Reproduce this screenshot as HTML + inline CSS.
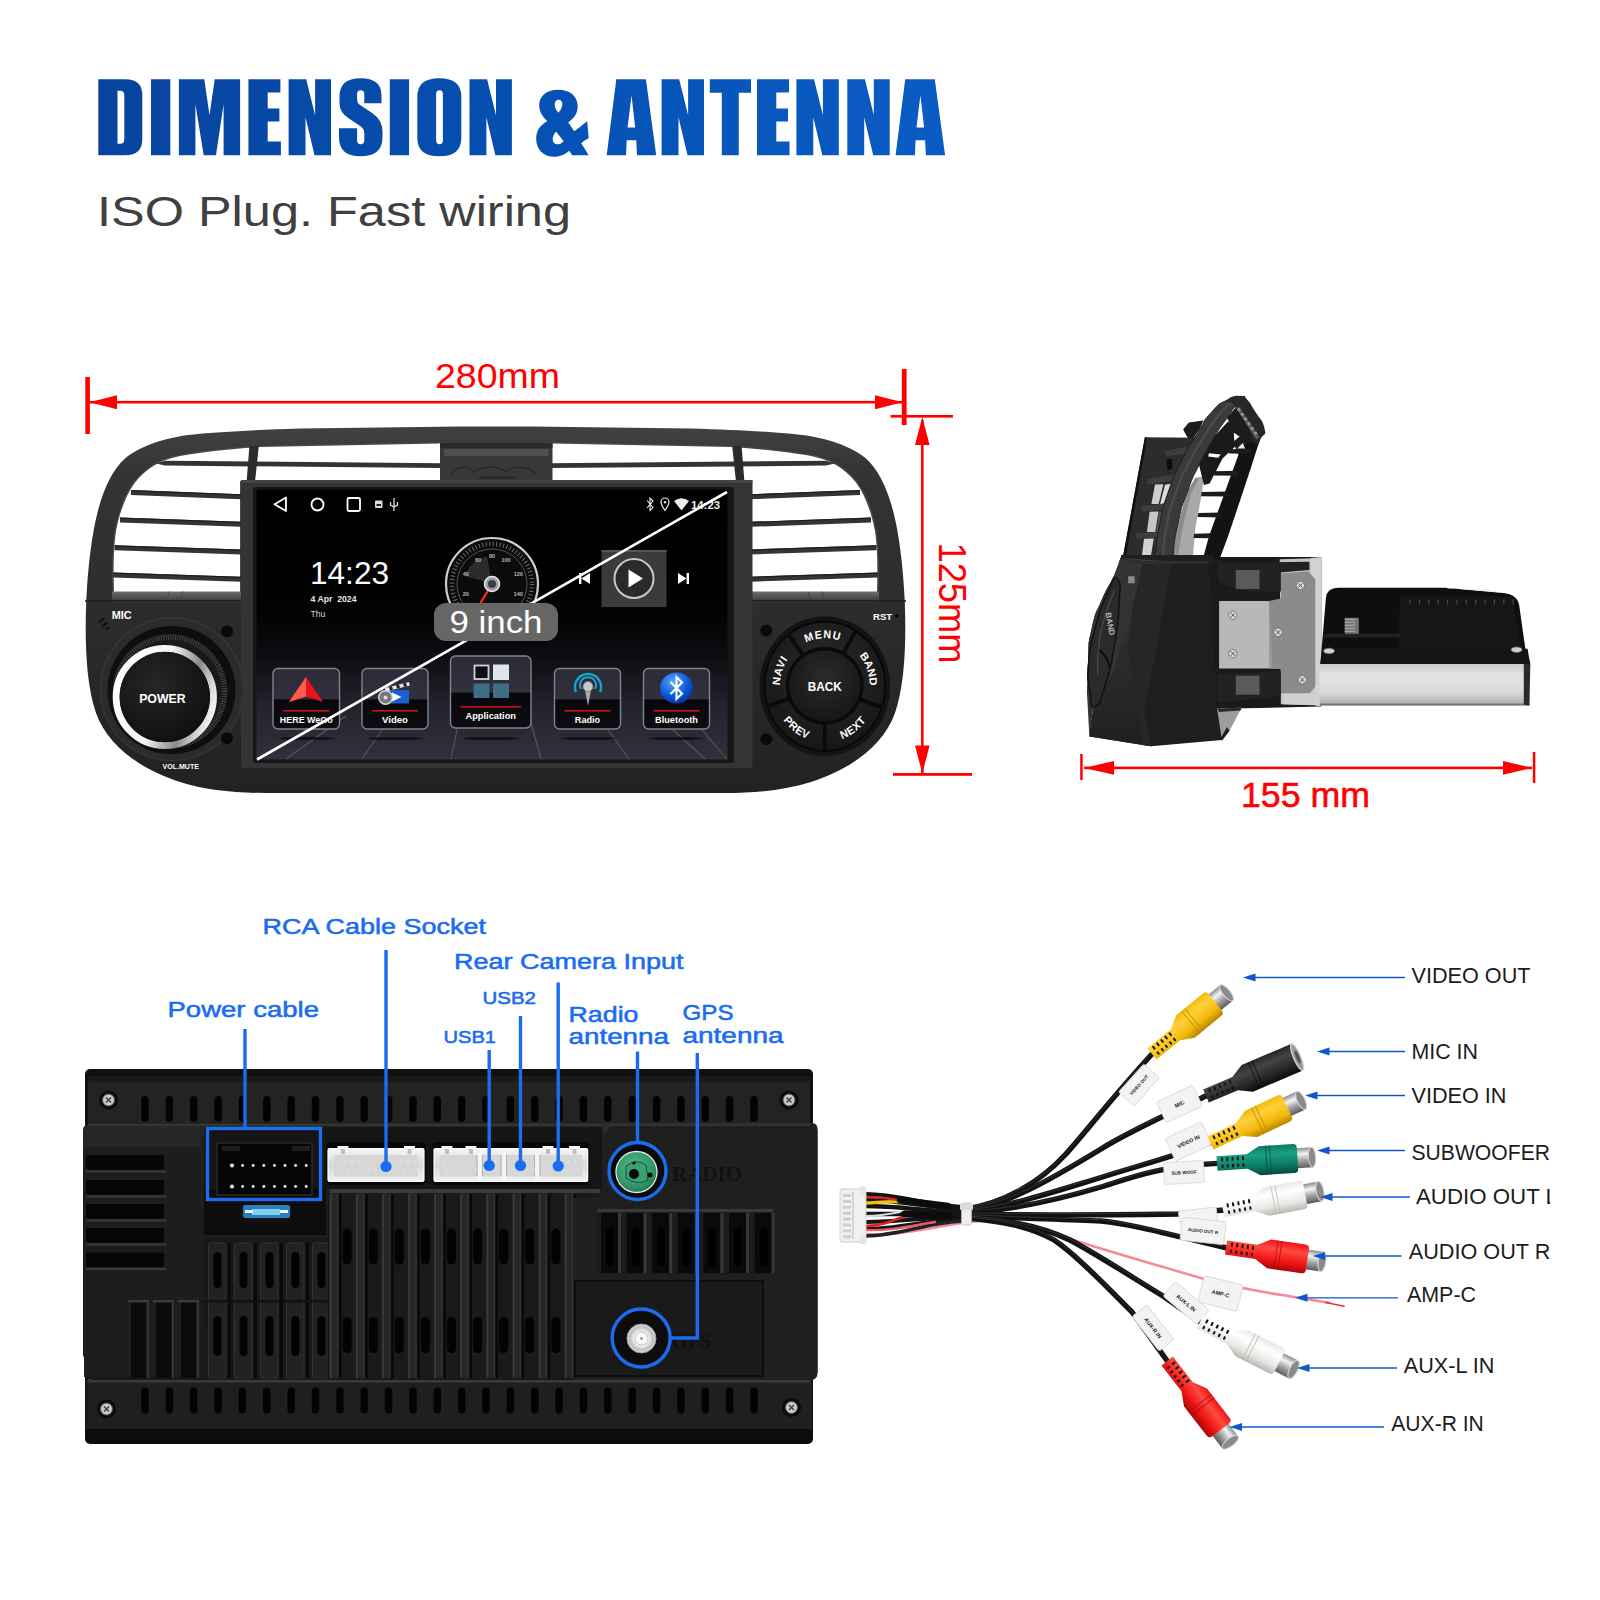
<!DOCTYPE html>
<html><head><meta charset="utf-8"><title>Dimension &amp; Antenna</title>
<style>
html,body{margin:0;padding:0;background:#fff;}
body{width:1600px;height:1600px;overflow:hidden;font-family:"Liberation Sans",sans-serif;}
svg{display:block;position:absolute;left:0;top:0;}
svg text{font-family:"Liberation Sans",sans-serif;}
</style></head><body>
<svg width="1600" height="1600" viewBox="0 0 1600 1600">
<!-- p_head -->

<defs>
<linearGradient id="tg" gradientUnits="userSpaceOnUse" x1="98" y1="0" x2="946" y2="0">
<stop offset="0" stop-color="#08449e"/><stop offset="0.5" stop-color="#0650b2"/><stop offset="1" stop-color="#0a5cc4"/>
</linearGradient>
</defs>
<clipPath id="tclip">
<path clip-rule="evenodd" transform="translate(98.3,79.2)" d="M0,0H27Q44,0 44,16V60Q44,76 27,76H0ZM19.2,11.5V64.5H22Q26,64.5 26,60V16Q26,11.5 22,11.5Z"/>
<path clip-rule="evenodd" transform="translate(151.0,79.2)" d="M0,0H19.3V76H0Z"/>
<path clip-rule="evenodd" transform="translate(178.9,79.2)" d="M0,0H25.4L30.6,36L35.8,0H61.2V76H44.7V25L37.1,76H24.8L16.5,25V76H0Z"/>
<path clip-rule="evenodd" transform="translate(248.4,79.2)" d="M0,0H32V13.3H19.3V29.2H31V42.2H19.3V62.2H32.5V76H0Z"/>
<path clip-rule="evenodd" transform="translate(288.6,79.2)" d="M0,0H17.6L26.5,36V0H42.4V76H25.9L16.9,38V76H0Z"/>
<path clip-rule="evenodd" transform="translate(338.5,79.2)" d="M43,24V16Q43,-1 22,-1Q1,-1 1,17V24Q1,33 10,39L22,47Q25.8,49.5 25.8,54V61Q25.8,65 22.2,65Q18.6,65 18.6,61V49H0.5V58Q0.5,77 22,77Q44,77 44,58V52Q44,41 34,34L22,26Q18.6,24 18.6,20V15Q18.6,11 22.2,11Q25.8,11 25.8,15V24Z"/>
<path clip-rule="evenodd" transform="translate(389.8,79.2)" d="M0,0H19.3V76H0Z"/>
<path clip-rule="evenodd" transform="translate(417.3,79.2)" d="M22,-1Q44,-1 44,17V59Q44,77 22,77Q0,77 0,59V17Q0,-1 22,-1ZM22.2,11Q18.8,11 18.8,15V61Q18.8,65 22.2,65Q25.6,65 25.6,61V15Q25.6,11 22.2,11Z"/>
<path clip-rule="evenodd" transform="translate(469.5,79.2)" d="M0,0H17.6L26.5,36V0H42.4V76H25.9L16.9,38V76H0Z"/>
<path clip-rule="evenodd" transform="translate(536.2,79.2)" d="M22,10.5C34,10.5 41.5,17 41.5,27C41.5,34 38,39 32,43L38,52C42,49 46,46 51,42L52.5,59C50,60 47,62 45,64L52.5,76H36L33,71.5C29,75 24,77.5 18,77.5C7,77.5 0,70 0,59.5C0,51 4,46 11,42C6,37 3,32 3,26C3,17 10,10.5 22,10.5ZM22.3,20.5C25.5,20.5 26.5,23 26,26C25.5,29 24,31.5 22,33.5C20,31 18.5,28.5 18.5,25.5C18.5,22.5 19.8,20.5 22.3,20.5ZM20,52.5L27.5,62C25.5,64 23.5,65 21.5,65C18.5,65 16.5,63 16.5,60C16.5,57 17.8,54.5 20,52.5Z"/>
<path clip-rule="evenodd" transform="translate(606.7,79.2)" d="M9.6,0H39.2L49.5,76H30.3L29.5,61H20L19.3,76H0ZM24.8,16L20.9,48.4H28.5Z"/>
<path clip-rule="evenodd" transform="translate(661.6,79.2)" d="M0,0H17.6L26.5,36V0H42.4V76H25.9L16.9,38V76H0Z"/>
<path clip-rule="evenodd" transform="translate(709.8,79.2)" d="M0,0H41.2V13.5H29V76H12V13.5H0Z"/>
<path clip-rule="evenodd" transform="translate(757.0,79.2)" d="M0,0H32V13.3H19.3V29.2H31V42.2H19.3V62.2H32.5V76H0Z"/>
<path clip-rule="evenodd" transform="translate(796.4,79.2)" d="M0,0H17.6L26.5,36V0H42.4V76H25.9L16.9,38V76H0Z"/>
<path clip-rule="evenodd" transform="translate(847.3,79.2)" d="M0,0H17.6L26.5,36V0H42.4V76H25.9L16.9,38V76H0Z"/>
<path clip-rule="evenodd" transform="translate(895.6,79.2)" d="M9.6,0H39.2L49.5,76H30.3L29.5,61H20L19.3,76H0ZM24.8,16L20.9,48.4H28.5Z"/>
</clipPath>
<rect x="90" y="70" width="870" height="95" fill="url(#tg)" clip-path="url(#tclip)"/>
<text x="97" y="226" font-size="42" fill="#404040" textLength="474" lengthAdjust="spacingAndGlyphs">ISO Plug. Fast wiring</text>

<!-- p_front -->

<defs>
<linearGradient id="bz" x1="0" y1="0" x2="0" y2="1">
 <stop offset="0" stop-color="#414141"/><stop offset="0.12" stop-color="#343434"/><stop offset="0.5" stop-color="#2c2c2c"/><stop offset="1" stop-color="#222222"/>
</linearGradient>
<linearGradient id="scr" x1="0" y1="0" x2="0" y2="1">
 <stop offset="0" stop-color="#000"/><stop offset="0.45" stop-color="#020203"/><stop offset="0.62" stop-color="#0d0d12"/><stop offset="0.8" stop-color="#22232c"/><stop offset="1" stop-color="#30313b"/>
</linearGradient>
<linearGradient id="tile" x1="0" y1="0" x2="0" y2="1">
 <stop offset="0" stop-color="#2a2b36"/><stop offset="0.5" stop-color="#30313d"/><stop offset="0.52" stop-color="#08080c"/><stop offset="1" stop-color="#0c0c12"/>
</linearGradient>
<linearGradient id="lip" x1="0" y1="0" x2="0" y2="1">
 <stop offset="0" stop-color="#6e6e6e"/><stop offset="1" stop-color="#3a3a3a"/>
</linearGradient>
<linearGradient id="chrome" x1="0" y1="0.3" x2="1" y2="0.6">
 <stop offset="0" stop-color="#ffffff"/><stop offset="0.45" stop-color="#f4f4f4"/><stop offset="0.75" stop-color="#8a8a8a"/><stop offset="0.9" stop-color="#cfcfcf"/><stop offset="1" stop-color="#efefef"/>
</linearGradient>
<radialGradient id="cap" cx="0.4" cy="0.35" r="0.8">
 <stop offset="0" stop-color="#262626"/><stop offset="1" stop-color="#0c0c0c"/>
</radialGradient>
<radialGradient id="btn" cx="0.5" cy="0.4" r="0.7">
 <stop offset="0" stop-color="#2b2b2b"/><stop offset="1" stop-color="#131313"/>
</radialGradient>
<radialGradient id="bt" cx="0.4" cy="0.3" r="0.8">
 <stop offset="0" stop-color="#5aa8ff"/><stop offset="0.6" stop-color="#0b55d8"/><stop offset="1" stop-color="#042a8a"/>
</radialGradient>
</defs>
<clipPath id="bzclip"><path d="M497.0,426.5 L460.0,426.5 L300.0,428.5 C255.0,430.0 220.0,431.5 191.0,434.7 C165.0,437.5 140.0,446.0 125.6,458.0 C113.0,469.0 104.0,487.0 97.5,512.5 C92.0,534.0 88.0,565.0 86.3,600.0 C84.5,645.0 86.5,685.0 96.0,713.0 C107.0,744.0 138.0,768.5 180.0,782.0 C205.0,790.0 235.0,793.0 265.0,793.0 L497.0,793.0 L494.0,793.0 L726.0,793.0 C756.0,793.0 786.0,790.0 811.0,782.0 C853.0,768.5 884.0,744.0 895.0,713.0 C904.5,685.0 906.5,645.0 904.7,600.0 C903.0,565.0 899.0,534.0 893.5,512.5 C887.0,487.0 878.0,469.0 865.4,458.0 C851.0,446.0 826.0,437.5 800.0,434.7 C771.0,431.5 736.0,430.0 691.0,428.5 L531.0,426.5 L494.0,426.5 Z"/></clipPath>
<path d="M497.0,426.5 L460.0,426.5 L300.0,428.5 C255.0,430.0 220.0,431.5 191.0,434.7 C165.0,437.5 140.0,446.0 125.6,458.0 C113.0,469.0 104.0,487.0 97.5,512.5 C92.0,534.0 88.0,565.0 86.3,600.0 C84.5,645.0 86.5,685.0 96.0,713.0 C107.0,744.0 138.0,768.5 180.0,782.0 C205.0,790.0 235.0,793.0 265.0,793.0 L497.0,793.0 L494.0,793.0 L726.0,793.0 C756.0,793.0 786.0,790.0 811.0,782.0 C853.0,768.5 884.0,744.0 895.0,713.0 C904.5,685.0 906.5,645.0 904.7,600.0 C903.0,565.0 899.0,534.0 893.5,512.5 C887.0,487.0 878.0,469.0 865.4,458.0 C851.0,446.0 826.0,437.5 800.0,434.7 C771.0,431.5 736.0,430.0 691.0,428.5 L531.0,426.5 L494.0,426.5 Z" fill="url(#bz)"/>
<path d="M440,443.6 L260,447 C230,449 200,452.5 180,456 C160,460 147,468 135,482.5 C125,496 119,515 116,531 C113.5,548 113,570 114.4,601 L240,601 L240,481 L440,481 Z" fill="#fff" stroke="#484848" stroke-width="3" paint-order="stroke"/>
<path d="M440,443.6 L260,447 C230,449 200,452.5 180,456 C160,460 147,468 135,482.5 C125,496 119,515 116,531 C113.5,548 113,570 114.4,601 L240,601 L240,481 L440,481 Z" fill="#fff" stroke="#484848" stroke-width="3" paint-order="stroke" transform="translate(991.0,0) scale(-1,1)"/>
<rect x="439" y="443.4" width="113" height="38" fill="#fff"/>
<g><path d="M156,463.5 L165,460.8 L441,463.2 L441,468 L165,465.6 Z" fill="#333"/>
<path d="M249.4,446 L258.8,446 L255,482 L246.6,482 Z" fill="#2b2b2b"/>
<path d="M131,490 L241,494.2 L241,499.2 L131,495 Z" fill="#343434"/>
<path d="M131,490.6 L241,494.8" stroke="#1f1f1f" stroke-width="1.2"/>
<path d="M120,517.6 L241,521.8 L241,526.8 L120,522.6 Z" fill="#343434"/>
<path d="M120,518.2 L241,522.4" stroke="#1f1f1f" stroke-width="1.2"/>
<path d="M114.5,545.3 L241,549.5 L241,554.5 L114.5,550.3 Z" fill="#343434"/>
<path d="M114.5,545.9 L241,550.1" stroke="#1f1f1f" stroke-width="1.2"/>
<path d="M113,572.5 L241,576.7 L241,581.7 L113,577.5 Z" fill="#343434"/>
<path d="M113,573.1 L241,577.3" stroke="#1f1f1f" stroke-width="1.2"/>
<rect x="112" y="591.5" width="129" height="10" fill="url(#lip)"/>
<path d="M169.5,591.5 L166,601.5 M183,591.5 L179.500,601.5" stroke="#444" stroke-width="1"/>
</g>
<g transform="translate(991.0,0) scale(-1,1)"><path d="M156,463.5 L165,460.8 L441,463.2 L441,468 L165,465.6 Z" fill="#333"/>
<path d="M249.4,446 L258.8,446 L255,482 L246.6,482 Z" fill="#2b2b2b"/>
<path d="M131,490 L241,494.2 L241,499.2 L131,495 Z" fill="#343434"/>
<path d="M131,490.6 L241,494.8" stroke="#1f1f1f" stroke-width="1.2"/>
<path d="M120,517.6 L241,521.8 L241,526.8 L120,522.6 Z" fill="#343434"/>
<path d="M120,518.2 L241,522.4" stroke="#1f1f1f" stroke-width="1.2"/>
<path d="M114.5,545.3 L241,549.5 L241,554.5 L114.5,550.3 Z" fill="#343434"/>
<path d="M114.5,545.9 L241,550.1" stroke="#1f1f1f" stroke-width="1.2"/>
<path d="M113,572.5 L241,576.7 L241,581.7 L113,577.5 Z" fill="#343434"/>
<path d="M113,573.1 L241,577.3" stroke="#1f1f1f" stroke-width="1.2"/>
<rect x="112" y="591.5" width="129" height="10" fill="url(#lip)"/>
<path d="M169.5,591.5 L166,601.5 M183,591.5 L179.500,601.5" stroke="#444" stroke-width="1"/>
</g>
<path d="M85,601 L241,601" stroke="#1c1c1c" stroke-width="1.5"/>
<path d="M750,601 L906,601" stroke="#1c1c1c" stroke-width="1.5"/>
<rect x="440" y="443" width="112.5" height="38" fill="#383838"/>
<rect x="444" y="449" width="104.5" height="7" fill="#4e4e4e"/>
<rect x="440" y="443" width="112.5" height="5" fill="#2a2a2a"/>
<path d="M452,474 C456,466 468,465 474,472 C480,466 500,465 506,472 C512,465 528,466 536,474" fill="none" stroke="#2a2a2a" stroke-width="1.6"/>
<rect x="479" y="476.5" width="36" height="2" fill="#252525"/>
<rect x="241" y="480" width="511.5" height="288" rx="2" fill="#343434"/>
<rect x="241" y="480" width="511.5" height="3" fill="#444"/>
<rect x="253" y="487" width="481" height="276" rx="2" fill="#161616"/>
<rect x="256.5" y="489.5" width="471" height="270" fill="url(#scr)"/>
<g stroke="#5a5b67" stroke-width="1.1" opacity="0.9" fill="none"><path d="M286,759 L346,716"/><path d="M362,759 L392,716"/><path d="M451,759 L460,716"/><path d="M541,759 L529,716"/><path d="M629,759 L598,716"/><path d="M705,759 L658,716"/><path d="M727,759 L690,716"/></g>
<ellipse cx="306" cy="738.5" rx="28" ry="1.6" fill="#000" opacity="0.6"/>
<ellipse cx="395" cy="738.5" rx="28" ry="1.6" fill="#000" opacity="0.6"/>
<ellipse cx="491" cy="738.5" rx="28" ry="1.6" fill="#000" opacity="0.6"/>
<ellipse cx="588" cy="738.5" rx="28" ry="1.6" fill="#000" opacity="0.6"/>
<ellipse cx="676" cy="738.5" rx="28" ry="1.6" fill="#000" opacity="0.6"/>
<path d="M286,497.5 L286,511 L274.5,504.2 Z" fill="none" stroke="#fff" stroke-width="1.8" stroke-linejoin="round"/>
<circle cx="317.5" cy="504.5" r="6" fill="none" stroke="#fff" stroke-width="1.8"/>
<rect x="347.5" y="498" width="12.5" height="13" rx="1.5" fill="none" stroke="#fff" stroke-width="1.8"/>
<rect x="375" y="500.5" width="7.5" height="7.5" rx="1" fill="#ddd"/><rect x="376.5" y="504" width="4.5" height="2" fill="#222"/>
<path d="M394,498 V511 M390.5,502 V505 L394,507 L397.5,505 V502" fill="none" stroke="#ddd" stroke-width="1.3"/>
<path d="M647,500.5 L653,507.5 L650,510.5 V498 L653,501 L647,508" fill="none" stroke="#eee" stroke-width="1.1"/>
<path d="M665,510.5 C662,506 661,504 661,502 A4,4 0 0 1 669,502 C669,504 668,506 665,510.5 Z" fill="none" stroke="#eee" stroke-width="1.2"/><circle cx="665" cy="502.3" r="1.2" fill="#eee"/>
<path d="M674,501 Q681.5,495.5 689,501 L681.5,510.5 Z" fill="#eee"/>
<text x="691" y="508.7" font-size="11.5" font-weight="bold" fill="#eee" textLength="29" lengthAdjust="spacingAndGlyphs">14:23</text>
<text x="310" y="583.5" font-size="31.5" fill="#fff" textLength="79" lengthAdjust="spacingAndGlyphs">14:23</text>
<text x="310.5" y="602.3" font-size="8.4" font-weight="bold" fill="#e6e6e6" textLength="46" lengthAdjust="spacingAndGlyphs">4 Apr&#160; 2024</text>
<text x="310.5" y="617.3" font-size="8.6" fill="#d8d8d8">Thu</text>
<clipPath id="gclip"><rect x="440" y="530" width="104" height="82"/></clipPath>
<g clip-path="url(#gclip)"><circle cx="492" cy="584" r="46" fill="#0b0b0b" stroke="#cfcfcf" stroke-width="2.2"/><circle cx="492" cy="584" r="40" fill="none" stroke="#777" stroke-width="4.5" stroke-dasharray="0.9 2.6"/><circle cx="492" cy="584" r="35" fill="none" stroke="#555" stroke-width="1"/><path d="M492,584 L465,576 A28,28 0 0 1 487,556.5 Z" fill="#2c2c2c"/><text x="465.7" y="595.6" font-size="5.5" font-weight="bold" fill="#bbb" text-anchor="middle">20</text><text x="465.7" y="576.4" font-size="5.5" font-weight="bold" fill="#bbb" text-anchor="middle">40</text><text x="478.0" y="561.8" font-size="5.5" font-weight="bold" fill="#bbb" text-anchor="middle">60</text><text x="492.0" y="558.0" font-size="5.5" font-weight="bold" fill="#bbb" text-anchor="middle">80</text><text x="506.0" y="561.8" font-size="5.5" font-weight="bold" fill="#bbb" text-anchor="middle">100</text><text x="518.3" y="576.4" font-size="5.5" font-weight="bold" fill="#bbb" text-anchor="middle">120</text><text x="518.3" y="595.6" font-size="5.5" font-weight="bold" fill="#bbb" text-anchor="middle">140</text></g>
<path d="M492,584 L481,602" stroke="#ff2a1a" stroke-width="2.2" stroke-linecap="round"/>
<circle cx="492" cy="584" r="7.5" fill="#9aa0a8" stroke="#e8e8e8" stroke-width="1.6"/><circle cx="492" cy="584" r="4" fill="#3a3f47"/>
<rect x="438" y="604" width="110" height="14" fill="#010102"/>
<rect x="601.5" y="550" width="65" height="57" fill="#3b3b3b"/>
<rect x="601.5" y="550" width="65" height="2" fill="#555"/>
<circle cx="634" cy="578.5" r="19.5" fill="#2a2a2a" stroke="#c9c9c9" stroke-width="2"/>
<path d="M628.5,569.5 L643,578.5 L628.5,587.5 Z" fill="#fff"/>
<path d="M590,573 V584 L581.5,578.5 Z M579,573 h2.4 v11 h-2.4 Z" fill="#fff"/>
<path d="M678,573 V584 L686.5,578.5 Z M686.6,573 h2.4 v11 h-2.4 Z" fill="#fff"/>
<rect x="273" y="668.5" width="66.5" height="60.5" rx="5" fill="url(#tile)" stroke="#83848c" stroke-width="1.4"/>
<rect x="283" y="710" width="46.5" height="1.6" fill="#c41414"/>
<text x="306.25" y="722.5" font-size="8.3" font-weight="bold" fill="#fff" text-anchor="middle" textLength="53" lengthAdjust="spacingAndGlyphs">HERE WeGo</text>
<rect x="362" y="668.5" width="66" height="60.5" rx="5" fill="url(#tile)" stroke="#83848c" stroke-width="1.4"/>
<rect x="372" y="710" width="46" height="1.6" fill="#c41414"/>
<text x="395" y="722.5" font-size="8.3" font-weight="bold" fill="#fff" text-anchor="middle" textLength="26" lengthAdjust="spacingAndGlyphs">Video</text>
<rect x="450.5" y="656" width="80.5" height="72" rx="5" fill="url(#tile)" stroke="#83848c" stroke-width="1.4"/>
<rect x="460.5" y="706" width="60.5" height="1.6" fill="#c41414"/>
<text x="490.75" y="718.5" font-size="8.3" font-weight="bold" fill="#fff" text-anchor="middle" textLength="50.5" lengthAdjust="spacingAndGlyphs">Application</text>
<rect x="554.5" y="668.5" width="66" height="60.5" rx="5" fill="url(#tile)" stroke="#83848c" stroke-width="1.4"/>
<rect x="564.5" y="710" width="46" height="1.6" fill="#c41414"/>
<text x="587.5" y="722.5" font-size="8.3" font-weight="bold" fill="#fff" text-anchor="middle" textLength="25.4" lengthAdjust="spacingAndGlyphs">Radio</text>
<rect x="643.5" y="668.5" width="66" height="60.5" rx="5" fill="url(#tile)" stroke="#83848c" stroke-width="1.4"/>
<rect x="653.5" y="710" width="46" height="1.6" fill="#c41414"/>
<text x="676.5" y="722.5" font-size="8.3" font-weight="bold" fill="#fff" text-anchor="middle" textLength="43" lengthAdjust="spacingAndGlyphs">Bluetooth</text>
<path d="M306,677 L323,702 L306,696.5 L289,702 Z" fill="#e8141c"/><path d="M306,677 L306,696.5 L289,702 Z" fill="#ff5a50"/>
<rect x="386" y="690" width="23" height="13.5" fill="#1d5fd0"/><path d="M392,692.5 L401.5,697 L392,701.5 Z" fill="#fff"/><path d="M385,688 L409,682 L409.8,685.5 L385.8,691.5 Z" fill="#e8e8e8"/><path d="M389,687 l3,-0.8 l1,3.4 l-3,0.8z M396,685.2 l3,-0.8 l1,3.4 l-3,0.8z M403,683.5 l3,-0.8 l1,3.4 l-3,0.8z" fill="#222"/><circle cx="385.5" cy="697.5" r="6.8" fill="#777" stroke="#ddd" stroke-width="1.4"/><circle cx="385.5" cy="697.5" r="2" fill="#ddd"/>
<rect x="474.5" y="665.5" width="14" height="13.5" fill="#0e0e14" stroke="#d0d4da" stroke-width="1.8"/><rect x="493" y="664.5" width="16" height="15.5" fill="#dfe6ea"/><rect x="473.5" y="683.5" width="16" height="14.5" fill="#3e6f86"/><rect x="493" y="683.5" width="16" height="14.5" fill="#3e6f86"/>
<path d="M576,692 A13,13 0 1 1 600,692" fill="none" stroke="#19a3c8" stroke-width="2.4"/><path d="M581,689 A8,8 0 1 1 595,689" fill="none" stroke="#19a3c8" stroke-width="2"/><path d="M585,690 L588,706 L591,690 Z" fill="#aaa"/><circle cx="588" cy="686.5" r="5" fill="#c8c8c8" stroke="#777" stroke-width="0.8"/>
<ellipse cx="676.5" cy="688" rx="16.5" ry="15.5" fill="url(#bt)"/><path d="M670.5,682 L682,693.5 L676.5,699 V677 L682,682.5 L670.5,694" fill="none" stroke="#fff" stroke-width="2.1" stroke-linejoin="miter"/>
<path d="M257,759.5 L727,492" stroke="#fff" stroke-width="2.6"/>
<rect x="434" y="603" width="124" height="38" rx="12" fill="#666666"/>
<text x="496" y="633" font-size="32" fill="#fff" text-anchor="middle" textLength="93" lengthAdjust="spacingAndGlyphs">9 inch</text>
<g clip-path="url(#bzclip)"><circle cx="172" cy="689" r="72.500" fill="#343434"/><circle cx="172" cy="689.500" r="70.500" fill="#2b2b2b"/><circle cx="171.500" cy="690" r="64" fill="#0e0e0e"/></g>
<circle cx="170" cy="691.500" r="57.500" fill="#1a1a1a"/>
<circle cx="170" cy="691.500" r="54.500" fill="none" stroke="#4a4a4a" stroke-width="5.500" stroke-dasharray="0.9 1.5"/>
<circle cx="164.8" cy="697" r="48.6" fill="none" stroke="url(#chrome)" stroke-width="7"/>
<circle cx="164.8" cy="697" r="45.2" fill="url(#cap)"/>
<text x="162.4" y="703.2" font-size="12.4" font-weight="bold" fill="#fff" text-anchor="middle" textLength="46.5" lengthAdjust="spacingAndGlyphs">POWER</text>
<circle cx="227" cy="631.500" r="6" fill="#0a0a0a"/><circle cx="227" cy="738.300" r="6" fill="#0a0a0a"/>
<text x="111.7" y="619" font-size="10" font-weight="bold" fill="#fff" textLength="20" lengthAdjust="spacingAndGlyphs">MIC</text>
<path d="M99,622.500 l5.500,-4.300 M102,626.500 l5.500,-4 M106,629.500 l3.200,-2.200" stroke="#101010" stroke-width="2.2"/>
<text x="162.6" y="769.2" font-size="6.7" font-weight="bold" fill="#fff" textLength="36.3" lengthAdjust="spacingAndGlyphs">VOL.MUTE</text>
<g transform="translate(824.8,686.2) scale(1,1.07) translate(-824.8,-686.2)">
<circle cx="824.8" cy="686.2" r="65.300" fill="#131313"/>
<circle cx="824.8" cy="686.2" r="60.300" fill="url(#btn)" stroke="#080808" stroke-width="1.8"/>
<path d="M804.3,659.0 L788.1,637.5" stroke="#0a0a0a" stroke-width="3.8"/>
<path d="M842.3,657.1 L856.2,633.9" stroke="#0a0a0a" stroke-width="3.8"/>
<path d="M856.9,697.3 L882.5,706.1" stroke="#0a0a0a" stroke-width="3.8"/>
<path d="M824.8,720.2 L824.8,747.2" stroke="#0a0a0a" stroke-width="3.8"/>
<path d="M792.5,696.7 L766.8,705.1" stroke="#0a0a0a" stroke-width="3.8"/>
<path id="arcMENU" d="M791.43,656.16 A44.9,44.9 0 0 1 854.84,652.83" fill="none"/>
<text font-size="10.6" font-weight="bold" fill="#fff" text-anchor="middle" textLength="34.5" lengthAdjust="spacing"><textPath href="#arcMENU" startOffset="50%" textLength="34.5" lengthAdjust="spacing">MENU</textPath></text>
<path id="arcBAND" d="M843.78,645.51 A44.9,44.9 0 0 1 865.49,705.18" fill="none"/>
<text font-size="10.6" font-weight="bold" fill="#fff" text-anchor="middle" textLength="30.5" lengthAdjust="spacing"><textPath href="#arcBAND" startOffset="50%" textLength="30.5" lengthAdjust="spacing">BAND</textPath></text>
<path id="arcNEXT" d="M816.17,737.78 A52.3,52.3 0 0 0 876.38,694.83" fill="none"/>
<text font-size="10.6" font-weight="bold" fill="#fff" text-anchor="middle" textLength="30" lengthAdjust="spacing"><textPath href="#arcNEXT" startOffset="50%" textLength="30" lengthAdjust="spacing">NEXT</textPath></text>
<path id="arcPREV" d="M773.14,694.38 A52.3,52.3 0 0 0 832.98,737.86" fill="none"/>
<text font-size="10.6" font-weight="bold" fill="#fff" text-anchor="middle" textLength="30" lengthAdjust="spacing"><textPath href="#arcPREV" startOffset="50%" textLength="30" lengthAdjust="spacing">PREV</textPath></text>
<path id="arcNAVI" d="M784.97,706.93 A44.9,44.9 0 0 1 804.07,646.37" fill="none"/>
<text font-size="10.6" font-weight="bold" fill="#fff" text-anchor="middle" textLength="26" lengthAdjust="spacing"><textPath href="#arcNAVI" startOffset="50%" textLength="26" lengthAdjust="spacing">NAVI</textPath></text>
</g>
<circle cx="824.8" cy="685.7" r="39" fill="#0a0a0a"/>
<circle cx="824.8" cy="685.7" r="35.500" fill="url(#btn)"/>
<text x="824.8" y="690.5" font-size="13.5" font-weight="bold" fill="#fff" text-anchor="middle" textLength="34" lengthAdjust="spacingAndGlyphs">BACK</text>
<circle cx="766.3" cy="630.5" r="6" fill="#0a0a0a"/><circle cx="766.3" cy="739.3" r="6" fill="#0a0a0a"/>
<text x="873" y="619.5" font-size="9.6" font-weight="bold" fill="#fff">RST</text><circle cx="896.8" cy="615.8" r="2" fill="#0a0a0a"/>
<g fill="#ff0000" stroke="none"><rect x="85.3" y="377" width="4.6" height="57"/><rect x="901.8" y="369" width="4.8" height="56"/><rect x="89" y="400.9" width="814" height="2.6"/><path d="M89.5,402.2 L117,395.2 L117,409.200 Z"/><path d="M902.5,402.2 L875,395.2 L875,409.200 Z"/><rect x="921" y="420" width="2.6" height="353"/><rect x="890.5" y="415" width="62.5" height="2.6"/><rect x="893" y="773" width="79" height="2.8"/><path d="M922.3,417 L915,445 L929.600,445 Z"/><path d="M922.3,773.5 L915,745.5 L929.600,745.5 Z"/></g>
<text x="497.5" y="388.3" font-size="35" fill="#ff0000" text-anchor="middle" textLength="125" lengthAdjust="spacingAndGlyphs">280mm</text>
<text transform="translate(938.5,603) rotate(90)" x="0" y="0" font-size="38" fill="#ff0000" text-anchor="middle" textLength="121" lengthAdjust="spacingAndGlyphs">125mm</text>

<!-- p_side -->

<defs>
<linearGradient id="sbody" x1="0" y1="0" x2="1" y2="0">
 <stop offset="0" stop-color="#1c1c1c"/><stop offset="0.35" stop-color="#262626"/><stop offset="0.6" stop-color="#161616"/><stop offset="1" stop-color="#0e0e0e"/>
</linearGradient>
<linearGradient id="silver" x1="0" y1="0" x2="0" y2="1">
 <stop offset="0" stop-color="#c9c9c9"/><stop offset="0.25" stop-color="#e4e4e4"/><stop offset="0.7" stop-color="#d8d8d8"/><stop offset="0.93" stop-color="#b5b5b5"/><stop offset="1" stop-color="#555"/>
</linearGradient>
<linearGradient id="metal" x1="0" y1="0" x2="1" y2="1">
 <stop offset="0" stop-color="#a9a9a9"/><stop offset="1" stop-color="#8e8e8e"/>
</linearGradient>
</defs>
<polygon points="1206.1,557.0 1321.3,557.0 1321.3,706.6 1206.1,709.0" fill="#1a1a1a" />
<polygon points="1279.7,559.3 1320.1,558.1 1320.8,705.4 1280.9,704.2" fill="#c4c4c4" />
<polygon points="1310.6,558.1 1321.3,557.0 1321.3,706.6 1315.3,705.4" fill="#d2d2d2" />
<polygon points="1219.1,600.9 1283.3,600.9 1283.3,668.6 1219.1,668.6" fill="#b8b8b8" />
<polygon points="1269.0,600.9 1283.3,600.9 1283.3,668.6 1269.0,668.6" fill="#9a9a9a" />
<polygon points="1280.9,573.6 1308.2,571.2 1315.3,579.5 1315.3,686.4 1309.4,693.5 1280.9,693.5 1280.9,668.6 1272.6,668.6 1269.0,600.9 1280.9,598.5" fill="#8b8b8b" />
<polygon points="1218.0,562.9 1309.4,561.7 1309.4,570.0 1280.9,572.4 1280.9,591.4 1250.0,591.4 1235.8,589.0 1218.0,581.9" fill="#222" />
<polygon points="1235.8,570.0 1259.5,570.0 1259.5,589.0 1235.8,589.0" fill="#5a5a5a" />
<polygon points="1218.0,674.5 1280.9,671.0 1280.9,695.9 1218.0,703.0" fill="#222" />
<polygon points="1235.8,675.7 1259.5,675.7 1259.5,694.7 1235.8,694.7" fill="#5a5a5a" />
<polygon points="1283.3,693.5 1315.3,693.5 1315.3,704.9 1283.3,704.2" fill="#d0d0d0" />
<circle cx="1300.4" cy="585.5" r="4.2" fill="#d8d8d8" stroke="#666" stroke-width="0.8"/><path d="M1298.2,583.3 l4.4,4.4 m0,-4.4 l-4.4,4.4" stroke="#555" stroke-width="1"/>
<circle cx="1232.9" cy="615.2" r="4.2" fill="#d8d8d8" stroke="#666" stroke-width="0.8"/><path d="M1230.7,613.0 l4.4,4.4 m0,-4.4 l-4.4,4.4" stroke="#555" stroke-width="1"/>
<circle cx="1278.1" cy="632.3" r="4.2" fill="#d8d8d8" stroke="#666" stroke-width="0.8"/><path d="M1275.9,630.1 l4.4,4.4 m0,-4.4 l-4.4,4.4" stroke="#555" stroke-width="1"/>
<circle cx="1232.9" cy="653.6" r="4.2" fill="#d8d8d8" stroke="#666" stroke-width="0.8"/><path d="M1230.7,651.4 l4.4,4.4 m0,-4.4 l-4.4,4.4" stroke="#555" stroke-width="1"/>
<circle cx="1302.3" cy="679.8" r="4.2" fill="#d8d8d8" stroke="#666" stroke-width="0.8"/><path d="M1300.1,677.6 l4.4,4.4 m0,-4.4 l-4.4,4.4" stroke="#555" stroke-width="1"/>
<polygon points="1195.5,477.8 1203.4,476.6 1202.3,491.3 1198.9,509.3 1195.5,527.3 1192.7,558.8 1170.8,558.8 1177.5,525.0 1187.6,491.3" fill="#a8a8a8" />
<polygon points="1177.5,525.0 1187.6,491.3 1195.5,477.8 1198.9,478.9 1191.0,493.5 1183.1,525.0 1177.5,558.8 1171.3,558.8" fill="#8c8c8c" />
<polygon points="1144.9,437.3 1197.2,437.8 1173.0,491.3 1157.3,558.8 1122.6,558.8" fill="#2c2c2c" />
<polygon points="1183.1,429.4 1188.8,422.6 1203.4,420.4 1200.0,428.3 1193.3,438.4 1187.6,437.8" fill="#1c1c1c" />
<polygon points="1144.9,437.3 1147.1,437.7 1125.4,558.8 1122.6,558.8" fill="#111" />
<polygon points="1155.0,484.5 1163.4,484.3 1158.6,503.9 1151.4,503.9" fill="#cfcfcf" />
<polygon points="1149.6,511.7 1158.6,511.5 1155.2,532.0 1146.9,532.0" fill="#c6c6c6" />
<polygon points="1144.0,538.7 1153.7,538.5 1150.5,558.8 1141.5,558.8" fill="#d2d2d2" />
<polygon points="1165.1,484.7 1173.0,483.4 1163.8,503.6 1160.1,503.9" fill="#dcdcdc" />
<polygon points="1159.5,512.1 1162.9,511.5 1157.8,532.0 1156.1,532.0" fill="#555" />
<polygon points="1165.1,451.3 1186.5,446.8 1187.6,453.0 1166.3,456.4" fill="#3e3e3e" />
<polygon points="1147.1,478.9 1178.6,473.8 1177.5,480.0 1147.7,484.5" fill="#3e3e3e" />
<polygon points="1141.5,505.9 1166.3,503.6 1165.1,509.3 1142.1,511.5" fill="#3e3e3e" />
<polygon points="1135.9,533.5 1158.4,532.0 1157.3,537.6 1136.4,538.7" fill="#3e3e3e" />
<polygon points="1166.3,459.8 1171.9,458.6 1172.4,468.8 1167.4,470.4" fill="#0c0c0c" />
<polygon points="1259.6,440.6 1250.6,468.8 1239.4,502.5 1228.1,536.3 1219.7,558.8 1202.8,558.8 1209.0,536.3 1216.3,516.0 1223.6,495.8 1230.9,475.5 1238.3,455.3 1242.8,444.0" fill="#131313" />
<polygon points="1229.3,449.3 1251.8,448.8 1251.2,453.8 1228.6,453.6" fill="#1c1c1c" />
<polygon points="1214.6,471.2 1238.3,470.8 1237.7,475.7 1214.0,475.5" fill="#1c1c1c" />
<polygon points="1201.7,492.0 1228.1,491.6 1227.6,496.5 1201.0,496.3" fill="#1c1c1c" />
<polygon points="1198.3,512.9 1221.4,512.4 1220.8,517.4 1197.6,517.1" fill="#1c1c1c" />
<polygon points="1194.2,533.7 1211.3,533.2 1210.7,538.2 1193.5,538.0" fill="#1c1c1c" />
<polygon points="1198.9,464.3 1212.4,438.4 1228.1,421.5 1234.9,427.1 1235.5,446.3 1222.5,458.6 1209.6,483.4 1203.9,485.1" fill="#1a1a1a" />
<polygon points="1227.0,418.1 1237.1,405.8 1260.8,437.3 1255.1,442.9 1242.8,444.0 1238.3,455.3 1234.9,446.3 1229.3,422.6" fill="#1c1c1c" />
<polygon points="1209.0,453.2 1220.8,454.4 1218.2,457.7 1208.1,456.6" fill="#ffffff" />
<path d="M1154.8,558.8C1156.4,547.5 1154.9,547.5 1159.5,525.0C1164.1,502.5 1161.0,513.0 1168.5,491.3C1176.0,469.5 1172.3,479.3 1182.0,459.8C1191.8,440.3 1188.0,448.5 1197.8,432.8C1207.5,417.0 1201.1,423.6 1211.3,412.5C1221.4,401.4 1218.0,405.0 1228.1,399.6C1238.3,394.1 1237.1,397.3 1241.6,396.2L1245.0,406.9C1242.4,406.5 1243.1,402.0 1237.1,405.8C1231.1,409.5 1234.9,407.3 1227.0,418.1C1219.1,429.0 1222.5,423.4 1213.5,438.4C1204.5,453.4 1208.6,445.5 1200.0,463.1C1191.4,480.8 1195.1,470.6 1187.6,491.3C1180.1,511.9 1182.5,502.5 1177.5,525.0C1172.6,547.5 1174.4,547.5 1172.8,558.8Z" fill="#3a3a3a" stroke="#1d1d1d" stroke-width="1"/>
<path d="M1162.7,558.8C1164.0,547.5 1162.2,547.5 1166.8,525.0C1171.4,502.5 1168.9,512.3 1176.4,491.3C1183.9,470.3 1179.9,480.4 1189.3,462.0C1198.7,443.6 1194.9,451.5 1204.5,436.1C1214.1,420.8 1208.6,427.1 1218.0,415.9C1227.4,404.6 1224.4,408.0 1232.6,402.4C1240.9,396.8 1239.4,400.1 1242.8,399.0" fill="none" stroke="#4a4a4a" stroke-width="2.5"/>
<path d="M1228.1,399.6C1230.0,395.9 1235.5,396.0 1241.6,395.9C1247.8,395.7 1242.2,393.8 1246.7,399.0C1251.2,404.2 1249.3,401.8 1255.1,411.4C1261.0,420.9 1262.3,418.9 1264.4,427.7C1266.4,436.5 1264.4,432.8 1261.3,437.8C1258.3,442.9 1259.5,446.4 1255.1,442.9C1250.8,439.3 1252.5,436.1 1248.4,427.1C1244.3,418.1 1246.9,422.6 1242.8,415.9C1238.6,409.1 1240.9,412.3 1236.0,406.9C1231.1,401.4 1226.3,403.2 1228.1,399.6Z" fill="#272727"/>
<polygon points="1236.0,408.0 1239.4,406.9 1259.6,437.3 1256.3,439.5" fill="#5a5a5a" />
<polygon points="1236.9,409.1 1239.4,408.0 1240.7,410.3 1238.3,411.4" fill="#9a9a9a" />
<polygon points="1240.3,413.8 1242.8,412.7 1244.1,414.9 1241.6,416.1" fill="#9a9a9a" />
<polygon points="1243.7,418.5 1246.1,417.4 1247.5,419.6 1245.0,420.8" fill="#9a9a9a" />
<polygon points="1247.0,423.2 1249.5,422.1 1250.9,424.3 1248.4,425.4" fill="#9a9a9a" />
<polygon points="1250.4,427.9 1252.9,426.8 1254.2,429.0 1251.8,430.1" fill="#9a9a9a" />
<polygon points="1253.8,432.6 1256.3,431.4 1257.6,433.7 1255.1,434.8" fill="#9a9a9a" />
<polygon points="1233.8,432.8 1239.6,436.4 1234.3,440.9" fill="#fff" />
<polygon points="1242.8,442.9 1237.1,448.5 1245.0,448.5" fill="#eee" />
<rect x="1121" y="555" width="92" height="8" fill="#1e1e1e"/>
<polygon points="1217.1,708.7 1241.8,707.4 1229.5,730.7 1221.9,740.8 1218.5,727.3" fill="#9c9c9c" />
<polygon points="1217.1,708.7 1241.8,707.4 1240.4,710.4 1219.3,712.1" fill="#2a2a2a" />
<polygon points="1226.9,727.3 1229.5,730.7 1221.9,740.8 1220.7,738.3" fill="#1b1b1b" />
<path d="M1120.6,557.7C1118.5,563.6 1120.4,561.7 1114.2,575.4C1108.0,589.2 1109.5,581.6 1102.1,599.1C1094.6,616.5 1096.5,608.1 1091.9,627.7C1087.3,647.4 1089.2,637.9 1088.2,658.1C1087.2,678.4 1087.1,672.2 1088.9,688.5C1090.7,704.8 1092.7,696.9 1093.6,707.1C1094.5,717.2 1093.0,709.0 1091.6,718.9C1090.2,728.7 1090.1,730.7 1089.4,736.6" fill="#1d1d1d"/>
<polygon points="1120.6,557.7 1142.6,561.1 1208.4,561.1 1210.9,590.6 1214.3,658.1 1217.1,708.7 1221.9,740.0 1151.0,746.2 1089.4,736.6 1093.6,707.1 1112.2,678.4 1127.4,634.5 1120.6,590.6" fill="#1e1e1e" />
<path d="M1120.6,557.7C1118.5,563.6 1120.4,561.7 1114.2,575.4C1108.0,589.2 1109.5,581.6 1102.1,599.1C1094.6,616.5 1096.5,608.1 1091.9,627.7C1087.3,647.4 1089.2,637.9 1088.2,658.1C1087.2,678.4 1087.1,672.2 1088.9,688.5C1090.7,704.8 1092.7,696.9 1093.6,707.1C1094.5,717.2 1093.0,709.0 1091.6,718.9C1090.2,728.7 1090.1,730.7 1089.4,736.6 L1151.0,746.2 L1144.2,708.7 L1157.7,641.2 L1171.2,561.6 Z" fill="url(#sbody2)"/>
<defs><linearGradient id="sbody2" x1="0" y1="0" x2="0" y2="1"><stop offset="0" stop-color="#3e3e3e"/><stop offset="0.5" stop-color="#2c2c2c"/><stop offset="1" stop-color="#202020"/></linearGradient></defs>
<polygon points="1142.6,561.6 1171.2,561.6 1157.7,641.2 1144.2,708.7 1151.0,746.2 1142.6,745.0 1137.5,708.7 1127.4,648.0 1132.4,607.5" fill="#262626" />
<polygon points="1120.6,557.7 1142.6,561.6 1132.4,607.5 1112.2,675.0 1093.6,707.1 1091.6,718.9 1089.4,736.6 1086.9,691.9 1088.2,658.1 1091.9,627.7 1102.1,599.1 1114.2,575.4" fill="#333333" />
<path d="M1117.2,578.8C1113.0,574.9 1113.6,579.4 1106.3,595.7C1099.0,612.0 1101.1,605.8 1095.3,627.7C1089.5,649.7 1090.7,640.1 1088.9,661.5C1087.1,682.9 1087.8,677.0 1089.9,691.9C1092.0,706.8 1089.9,709.6 1095.3,706.2C1100.8,702.8 1100.1,701.2 1106.3,681.7C1112.5,662.3 1109.7,672.7 1113.9,648.0C1118.1,623.2 1117.8,630.6 1118.9,607.5C1120.1,584.4 1121.5,582.7 1117.2,578.8Z" fill="#2a2a2a" stroke="#111" stroke-width="1.5"/>
<path d="M1114.7,590.6C1111.3,599.6 1109.9,598.5 1104.6,617.6C1099.2,636.7 1100.9,628.9 1098.7,648.0C1096.4,667.1 1098.1,666.0 1097.8,675.0" fill="none" stroke="#4a4a4a" stroke-width="1.3"/>
<path d="M1099.5,649.7C1101.8,652.5 1102.9,651.9 1106.3,658.1C1109.7,664.3 1108.5,664.9 1109.7,668.2" fill="none" stroke="#0e0e0e" stroke-width="2"/>
<text transform="translate(1107.5,624.4) rotate(80)" font-size="8" font-weight="bold" fill="#b5b5b5" text-anchor="middle">BAND</text>
<rect x="1128.2" y="576.3" width="6.5" height="7" fill="#8a8a8a"/>
<polygon points="1120.6,557.7 1142.6,561.1 1208.4,561.1 1208.7,563.6 1142.6,564.0 1119.9,560.2" fill="#2e2e2e" />
<path d="M1320.3,664.7 L1325.9,598.1 Q1326.9,587.8 1338.1,587.8 L1445.0,587.8 L1503.1,592.9 Q1517.2,594.4 1519.1,604.7 L1525.6,650.6 L1530.3,664.7 L1320.3,664.7 Z" fill="#0e0e0e"/>
<polygon points="1400.0,596.3 1512.5,596.3 1521.9,650.6 1398.1,650.6" fill="#161616" />
<polygon points="1445.0,587.8 1501.3,592.5 1486.3,589.1 1448.8,588.4" fill="#f2f2f2" />
<polygon points="1324.1,633.8 1400.0,633.8 1400.0,637.5 1324.1,637.5" fill="#222" />
<polygon points="1409.4,599.6 1410.7,599.6 1410.7,604.7 1409.4,604.7" fill="#444" />
<polygon points="1418.8,599.6 1420.1,599.6 1420.1,604.7 1418.8,604.7" fill="#444" />
<polygon points="1428.1,599.6 1429.4,599.6 1429.4,604.7 1428.1,604.7" fill="#444" />
<polygon points="1437.5,599.6 1438.8,599.6 1438.8,604.7 1437.5,604.7" fill="#444" />
<polygon points="1446.9,599.6 1448.2,599.6 1448.2,604.7 1446.9,604.7" fill="#444" />
<polygon points="1456.3,599.6 1457.6,599.6 1457.6,604.7 1456.3,604.7" fill="#444" />
<polygon points="1465.6,599.6 1466.9,599.6 1466.9,604.7 1465.6,604.7" fill="#444" />
<polygon points="1475.0,599.6 1476.3,599.6 1476.3,604.7 1475.0,604.7" fill="#444" />
<polygon points="1484.4,599.6 1485.7,599.6 1485.7,604.7 1484.4,604.7" fill="#444" />
<polygon points="1493.8,599.6 1495.1,599.6 1495.1,604.7 1493.8,604.7" fill="#444" />
<polygon points="1503.1,599.6 1504.4,599.6 1504.4,604.7 1503.1,604.7" fill="#444" />
<polygon points="1512.5,599.6 1513.8,599.6 1513.8,604.7 1512.5,604.7" fill="#444" />
<polygon points="1344.7,617.8 1358.8,617.8 1358.8,633.8 1344.7,633.8" fill="#777" />
<polygon points="1344.7,618.8 1355.0,618.8 1355.0,619.9 1344.7,619.9" fill="#aaa" />
<polygon points="1344.7,621.8 1355.0,621.8 1355.0,622.9 1344.7,622.9" fill="#aaa" />
<polygon points="1344.7,624.8 1355.0,624.8 1355.0,625.9 1344.7,625.9" fill="#aaa" />
<polygon points="1344.7,627.8 1355.0,627.8 1355.0,628.9 1344.7,628.9" fill="#aaa" />
<polygon points="1344.7,630.8 1355.0,630.8 1355.0,631.9 1344.7,631.9" fill="#aaa" />
<polygon points="1322.2,648.8 1527.5,648.8 1530.3,664.1 1320.3,664.1" fill="#141414" />
<polygon points="1319.4,664.1 1530.3,664.1 1529.4,705.4 1319.8,705.4" fill="url(#silver)" />
<polygon points="1523.8,664.1 1530.3,664.1 1529.4,705.4 1523.8,704.6" fill="#2a2a2a" />
<ellipse cx="1329.1" cy="651.0" rx="5.5" ry="2.8" fill="#cfcfcf" stroke="#666" stroke-width="0.7"/>
<ellipse cx="1516.6" cy="649.7" rx="5.5" ry="2.8" fill="#cfcfcf" stroke="#666" stroke-width="0.7"/>
<g fill="#ff0000"><rect x="1080.2" y="754" width="2.5" height="26"/><rect x="1532.8" y="752" width="2.5" height="31"/><rect x="1084" y="766.6" width="448" height="2.6"/><path d="M1084,767.9 L1114,761 L1114,774.800 Z"/><path d="M1532,767.9 L1503,761 L1503,774.800 Z"/></g>
<text x="1305.5" y="806.6" font-size="35" fill="#ff0000" stroke="#ff0000" stroke-width="0.55" text-anchor="middle" textLength="129" lengthAdjust="spacingAndGlyphs">155 mm</text>

<!-- p_back -->

<defs>
<linearGradient id="bk1" x1="0" y1="0" x2="0" y2="1">
 <stop offset="0" stop-color="#2a2a2a"/><stop offset="1" stop-color="#1d1d1d"/>
</linearGradient>
<linearGradient id="bk2" x1="0" y1="0" x2="0" y2="1">
 <stop offset="0" stop-color="#2e2e2e"/><stop offset="0.06" stop-color="#202020"/><stop offset="1" stop-color="#181818"/>
</linearGradient>
<linearGradient id="wconn" x1="0" y1="0" x2="0" y2="1">
 <stop offset="0" stop-color="#f6f6f6"/><stop offset="0.5" stop-color="#d9d9d9"/><stop offset="1" stop-color="#f2f2f2"/>
</linearGradient>
<radialGradient id="grn" cx="0.45" cy="0.4" r="0.7">
 <stop offset="0" stop-color="#58c08f"/><stop offset="0.7" stop-color="#2f8f63"/><stop offset="1" stop-color="#1d5c40"/>
</radialGradient>
<radialGradient id="gps" cx="0.5" cy="0.5" r="0.5">
 <stop offset="0" stop-color="#fff"/><stop offset="0.55" stop-color="#e8e8e8"/><stop offset="0.8" stop-color="#bdbdbd"/><stop offset="1" stop-color="#e0e0e0"/>
</radialGradient>
</defs>
<rect x="85" y="1069" width="728" height="375" rx="5" fill="#101010"/>
<rect x="88" y="1076" width="722" height="54" rx="6" fill="#232323"/>
<rect x="88" y="1076" width="722" height="6" rx="3" fill="#1a1a1a"/>
<rect x="86" y="1378" width="726" height="55" rx="4" fill="#1f1f1f"/>
<rect x="86" y="1429" width="726" height="14" rx="3" fill="#0c0c0c"/>
<rect x="88" y="1379" width="722" height="3.5" fill="#3a3a3a"/>
<rect x="88" y="1124" width="722" height="3" fill="#3c3c3c"/>
<rect x="141.3" y="1096" width="7.4" height="26" rx="3.7" fill="#030303"/>
<rect x="141.3" y="1387.5" width="7.4" height="26" rx="3.7" fill="#030303"/>
<rect x="165.7" y="1096" width="7.4" height="26" rx="3.7" fill="#030303"/>
<rect x="165.7" y="1387.5" width="7.4" height="26" rx="3.7" fill="#030303"/>
<rect x="190.0" y="1096" width="7.4" height="26" rx="3.7" fill="#030303"/>
<rect x="190.0" y="1387.5" width="7.4" height="26" rx="3.7" fill="#030303"/>
<rect x="214.4" y="1096" width="7.4" height="26" rx="3.7" fill="#030303"/>
<rect x="214.4" y="1387.5" width="7.4" height="26" rx="3.7" fill="#030303"/>
<rect x="238.7" y="1096" width="7.4" height="26" rx="3.7" fill="#030303"/>
<rect x="238.7" y="1387.5" width="7.4" height="26" rx="3.7" fill="#030303"/>
<rect x="263.1" y="1096" width="7.4" height="26" rx="3.7" fill="#030303"/>
<rect x="263.1" y="1387.5" width="7.4" height="26" rx="3.7" fill="#030303"/>
<rect x="287.5" y="1096" width="7.4" height="26" rx="3.7" fill="#030303"/>
<rect x="287.5" y="1387.5" width="7.4" height="26" rx="3.7" fill="#030303"/>
<rect x="311.8" y="1096" width="7.4" height="26" rx="3.7" fill="#030303"/>
<rect x="311.8" y="1387.5" width="7.4" height="26" rx="3.7" fill="#030303"/>
<rect x="336.2" y="1096" width="7.4" height="26" rx="3.7" fill="#030303"/>
<rect x="336.2" y="1387.5" width="7.4" height="26" rx="3.7" fill="#030303"/>
<rect x="360.5" y="1096" width="7.4" height="26" rx="3.7" fill="#030303"/>
<rect x="360.5" y="1387.5" width="7.4" height="26" rx="3.7" fill="#030303"/>
<rect x="384.9" y="1096" width="7.4" height="26" rx="3.7" fill="#030303"/>
<rect x="384.9" y="1387.5" width="7.4" height="26" rx="3.7" fill="#030303"/>
<rect x="409.3" y="1096" width="7.4" height="26" rx="3.7" fill="#030303"/>
<rect x="409.3" y="1387.5" width="7.4" height="26" rx="3.7" fill="#030303"/>
<rect x="433.6" y="1096" width="7.4" height="26" rx="3.7" fill="#030303"/>
<rect x="433.6" y="1387.5" width="7.4" height="26" rx="3.7" fill="#030303"/>
<rect x="458.0" y="1096" width="7.4" height="26" rx="3.7" fill="#030303"/>
<rect x="458.0" y="1387.5" width="7.4" height="26" rx="3.7" fill="#030303"/>
<rect x="482.3" y="1096" width="7.4" height="26" rx="3.7" fill="#030303"/>
<rect x="482.3" y="1387.5" width="7.4" height="26" rx="3.7" fill="#030303"/>
<rect x="506.7" y="1096" width="7.4" height="26" rx="3.7" fill="#030303"/>
<rect x="506.7" y="1387.5" width="7.4" height="26" rx="3.7" fill="#030303"/>
<rect x="531.1" y="1096" width="7.4" height="26" rx="3.7" fill="#030303"/>
<rect x="531.1" y="1387.5" width="7.4" height="26" rx="3.7" fill="#030303"/>
<rect x="555.4" y="1096" width="7.4" height="26" rx="3.7" fill="#030303"/>
<rect x="555.4" y="1387.5" width="7.4" height="26" rx="3.7" fill="#030303"/>
<rect x="579.8" y="1096" width="7.4" height="26" rx="3.7" fill="#030303"/>
<rect x="579.8" y="1387.5" width="7.4" height="26" rx="3.7" fill="#030303"/>
<rect x="604.1" y="1096" width="7.4" height="26" rx="3.7" fill="#030303"/>
<rect x="604.1" y="1387.5" width="7.4" height="26" rx="3.7" fill="#030303"/>
<rect x="628.5" y="1096" width="7.4" height="26" rx="3.7" fill="#030303"/>
<rect x="628.5" y="1387.5" width="7.4" height="26" rx="3.7" fill="#030303"/>
<rect x="652.9" y="1096" width="7.4" height="26" rx="3.7" fill="#030303"/>
<rect x="652.9" y="1387.5" width="7.4" height="26" rx="3.7" fill="#030303"/>
<rect x="677.2" y="1096" width="7.4" height="26" rx="3.7" fill="#030303"/>
<rect x="677.2" y="1387.5" width="7.4" height="26" rx="3.7" fill="#030303"/>
<rect x="701.6" y="1096" width="7.4" height="26" rx="3.7" fill="#030303"/>
<rect x="701.6" y="1387.5" width="7.4" height="26" rx="3.7" fill="#030303"/>
<rect x="725.9" y="1096" width="7.4" height="26" rx="3.7" fill="#030303"/>
<rect x="725.9" y="1387.5" width="7.4" height="26" rx="3.7" fill="#030303"/>
<rect x="750.3" y="1096" width="7.4" height="26" rx="3.7" fill="#030303"/>
<rect x="750.3" y="1387.5" width="7.4" height="26" rx="3.7" fill="#030303"/>
<circle cx="108.5" cy="1100" r="9.5" fill="#0b0b0b"/><circle cx="108.5" cy="1100" r="6" fill="#c9c9c9" stroke="#555" stroke-width="1"/><path d="M106,1097.5 l5,5 m0,-5 l-5,5" stroke="#444" stroke-width="1.6"/>
<circle cx="789" cy="1100" r="9.5" fill="#0b0b0b"/><circle cx="789" cy="1100" r="6" fill="#c9c9c9" stroke="#555" stroke-width="1"/><path d="M786.5,1097.5 l5,5 m0,-5 l-5,5" stroke="#444" stroke-width="1.6"/>
<circle cx="106.5" cy="1409" r="9.5" fill="#0b0b0b"/><circle cx="106.5" cy="1409" r="6" fill="#c9c9c9" stroke="#555" stroke-width="1"/><path d="M104,1406.5 l5,5 m0,-5 l-5,5" stroke="#444" stroke-width="1.6"/>
<circle cx="791.5" cy="1407.5" r="9.5" fill="#0b0b0b"/><circle cx="791.5" cy="1407.5" r="6" fill="#c9c9c9" stroke="#555" stroke-width="1"/><path d="M789,1405 l5,5 m0,-5 l-5,5" stroke="#444" stroke-width="1.6"/>
<path d="M83,1130 Q83,1125 88,1125 L600,1125 L606,1123 L812,1123 Q817.5,1123 817.5,1129 L817.5,1372 Q817.5,1380 810,1380 L92,1380 L83,1355 Z" fill="url(#bk2)"/>
<rect x="204" y="1127" width="398" height="62" fill="#151515"/>
<rect x="204" y="1189" width="122" height="46" fill="#0c0c0c"/>
<rect x="84" y="1127" width="117" height="250" fill="#1d1d1d"/>
<rect x="84" y="1127" width="117" height="20" fill="#262626"/>
<rect x="86" y="1155" width="78" height="14.5" rx="2" fill="#060606"/>
<rect x="86" y="1170.5" width="80" height="2" fill="#3a3a3a"/>
<rect x="86" y="1180" width="78" height="14.5" rx="2" fill="#060606"/>
<rect x="86" y="1195.5" width="80" height="2" fill="#3a3a3a"/>
<rect x="86" y="1204" width="78" height="14.5" rx="2" fill="#060606"/>
<rect x="86" y="1219.5" width="80" height="2" fill="#3a3a3a"/>
<rect x="86" y="1228" width="78" height="14.5" rx="2" fill="#060606"/>
<rect x="86" y="1243.5" width="80" height="2" fill="#3a3a3a"/>
<rect x="86" y="1252.5" width="78" height="14.5" rx="2" fill="#060606"/>
<rect x="86" y="1268" width="80" height="2" fill="#3a3a3a"/>
<rect x="131" y="1302" width="15" height="76" fill="#0a0a0a"/><rect x="128" y="1300" width="21" height="2.5" fill="#3a3a3a"/><rect x="147" y="1302" width="2" height="76" fill="#333"/>
<rect x="156" y="1302" width="15" height="76" fill="#0a0a0a"/><rect x="153" y="1300" width="21" height="2.5" fill="#3a3a3a"/><rect x="172" y="1302" width="2" height="76" fill="#333"/>
<rect x="181" y="1302" width="15" height="76" fill="#0a0a0a"/><rect x="178" y="1300" width="21" height="2.5" fill="#3a3a3a"/><rect x="197" y="1302" width="2" height="76" fill="#333"/>
<rect x="204" y="1238" width="124" height="140" fill="#191919"/>
<rect x="208.5" y="1243" width="17.5" height="135" rx="2" fill="#222" stroke="#333" stroke-width="1"/>
<rect x="227.5" y="1243" width="3.5" height="135" fill="#0a0a0a"/>
<rect x="213.5" y="1252" width="8" height="36" rx="4" fill="#030303"/>
<rect x="213.5" y="1316" width="8" height="40" rx="4" fill="#030303"/>
<rect x="234.5" y="1243" width="17.5" height="135" rx="2" fill="#222" stroke="#333" stroke-width="1"/>
<rect x="253.5" y="1243" width="3.5" height="135" fill="#0a0a0a"/>
<rect x="239.5" y="1252" width="8" height="36" rx="4" fill="#030303"/>
<rect x="239.5" y="1316" width="8" height="40" rx="4" fill="#030303"/>
<rect x="260.5" y="1243" width="17.5" height="135" rx="2" fill="#222" stroke="#333" stroke-width="1"/>
<rect x="279.5" y="1243" width="3.5" height="135" fill="#0a0a0a"/>
<rect x="265.5" y="1252" width="8" height="36" rx="4" fill="#030303"/>
<rect x="265.5" y="1316" width="8" height="40" rx="4" fill="#030303"/>
<rect x="286.5" y="1243" width="17.5" height="135" rx="2" fill="#222" stroke="#333" stroke-width="1"/>
<rect x="305.5" y="1243" width="3.5" height="135" fill="#0a0a0a"/>
<rect x="291.5" y="1252" width="8" height="36" rx="4" fill="#030303"/>
<rect x="291.5" y="1316" width="8" height="40" rx="4" fill="#030303"/>
<rect x="312.5" y="1243" width="17.5" height="135" rx="2" fill="#222" stroke="#333" stroke-width="1"/>
<rect x="331.5" y="1243" width="3.5" height="135" fill="#0a0a0a"/>
<rect x="317.5" y="1252" width="8" height="36" rx="4" fill="#030303"/>
<rect x="317.5" y="1316" width="8" height="40" rx="4" fill="#030303"/>
<rect x="204" y="1300" width="126" height="2.5" fill="#111"/>
<rect x="328" y="1192" width="272" height="186" fill="#1a1a1a"/>
<rect x="330" y="1189" width="270" height="4" fill="#3a3a3a"/>
<rect x="329.4" y="1193" width="9.5" height="185" rx="2" fill="#262626"/><rect x="330.0" y="1194" width="1.6" height="184" fill="#3c3c3c"/><rect x="337.0" y="1194" width="1.2" height="184" fill="#343434"/>
<rect x="338.9" y="1194" width="2.6" height="184" fill="#090909"/>
<rect x="342.6" y="1228.5" width="9" height="36" rx="4.5" fill="#030303"/>
<rect x="342.6" y="1317" width="9" height="36" rx="4.5" fill="#030303"/>
<rect x="355.5" y="1193" width="9.5" height="185" rx="2" fill="#262626"/><rect x="356.1" y="1194" width="1.6" height="184" fill="#3c3c3c"/><rect x="363.1" y="1194" width="1.2" height="184" fill="#343434"/>
<rect x="365.0" y="1194" width="2.6" height="184" fill="#090909"/>
<rect x="368.7" y="1228.5" width="9" height="36" rx="4.5" fill="#030303"/>
<rect x="368.7" y="1317" width="9" height="36" rx="4.5" fill="#030303"/>
<rect x="381.6" y="1193" width="9.5" height="185" rx="2" fill="#262626"/><rect x="382.2" y="1194" width="1.6" height="184" fill="#3c3c3c"/><rect x="389.2" y="1194" width="1.2" height="184" fill="#343434"/>
<rect x="391.1" y="1194" width="2.6" height="184" fill="#090909"/>
<rect x="394.8" y="1228.5" width="9" height="36" rx="4.5" fill="#030303"/>
<rect x="394.8" y="1317" width="9" height="36" rx="4.5" fill="#030303"/>
<rect x="407.7" y="1193" width="9.5" height="185" rx="2" fill="#262626"/><rect x="408.3" y="1194" width="1.6" height="184" fill="#3c3c3c"/><rect x="415.3" y="1194" width="1.2" height="184" fill="#343434"/>
<rect x="417.2" y="1194" width="2.6" height="184" fill="#090909"/>
<rect x="420.9" y="1228.5" width="9" height="36" rx="4.5" fill="#030303"/>
<rect x="420.9" y="1317" width="9" height="36" rx="4.5" fill="#030303"/>
<rect x="433.8" y="1193" width="9.5" height="185" rx="2" fill="#262626"/><rect x="434.4" y="1194" width="1.6" height="184" fill="#3c3c3c"/><rect x="441.4" y="1194" width="1.2" height="184" fill="#343434"/>
<rect x="443.3" y="1194" width="2.6" height="184" fill="#090909"/>
<rect x="447.0" y="1228.5" width="9" height="36" rx="4.5" fill="#030303"/>
<rect x="447.0" y="1317" width="9" height="36" rx="4.5" fill="#030303"/>
<rect x="459.9" y="1193" width="9.5" height="185" rx="2" fill="#262626"/><rect x="460.5" y="1194" width="1.6" height="184" fill="#3c3c3c"/><rect x="467.5" y="1194" width="1.2" height="184" fill="#343434"/>
<rect x="469.4" y="1194" width="2.6" height="184" fill="#090909"/>
<rect x="473.1" y="1228.5" width="9" height="36" rx="4.5" fill="#030303"/>
<rect x="473.1" y="1317" width="9" height="36" rx="4.5" fill="#030303"/>
<rect x="486.0" y="1193" width="9.5" height="185" rx="2" fill="#262626"/><rect x="486.6" y="1194" width="1.6" height="184" fill="#3c3c3c"/><rect x="493.6" y="1194" width="1.2" height="184" fill="#343434"/>
<rect x="495.5" y="1194" width="2.6" height="184" fill="#090909"/>
<rect x="499.2" y="1228.5" width="9" height="36" rx="4.5" fill="#030303"/>
<rect x="499.2" y="1317" width="9" height="36" rx="4.5" fill="#030303"/>
<rect x="512.1" y="1193" width="9.5" height="185" rx="2" fill="#262626"/><rect x="512.7" y="1194" width="1.6" height="184" fill="#3c3c3c"/><rect x="519.7" y="1194" width="1.2" height="184" fill="#343434"/>
<rect x="521.6" y="1194" width="2.6" height="184" fill="#090909"/>
<rect x="525.3" y="1228.5" width="9" height="36" rx="4.5" fill="#030303"/>
<rect x="525.3" y="1317" width="9" height="36" rx="4.5" fill="#030303"/>
<rect x="538.2" y="1193" width="9.5" height="185" rx="2" fill="#262626"/><rect x="538.8" y="1194" width="1.6" height="184" fill="#3c3c3c"/><rect x="545.8" y="1194" width="1.2" height="184" fill="#343434"/>
<rect x="547.7" y="1194" width="2.6" height="184" fill="#090909"/>
<rect x="551.4" y="1228.5" width="9" height="36" rx="4.5" fill="#030303"/>
<rect x="551.4" y="1317" width="9" height="36" rx="4.5" fill="#030303"/>
<rect x="564.3" y="1193" width="9.5" height="185" rx="2" fill="#262626"/><rect x="564.9" y="1194" width="1.6" height="184" fill="#3c3c3c"/><rect x="571.9" y="1194" width="1.2" height="184" fill="#343434"/>
<rect x="573.8" y="1194" width="2.6" height="184" fill="#090909"/>
<rect x="577.5" y="1228.5" width="9" height="36" rx="4.5" fill="#030303"/>
<rect x="577.5" y="1317" width="9" height="36" rx="4.5" fill="#030303"/>
<path d="M605,1130 Q605,1124 611,1124 L810,1124 Q817.5,1124 817.5,1131 L817.5,1372 Q817.5,1380 810,1380 L573,1380 L573,1198 L600,1196 L605,1190 Z" fill="#1f1f1f"/>
<path d="M606,1131 Q606,1125 612,1125 L810,1125" fill="none" stroke="#3a3a3a" stroke-width="1.5"/>
<rect x="597" y="1211" width="176" height="64" fill="#1c1c1c"/>
<rect x="601.0" y="1213" width="17" height="60" fill="#0a0a0a"/><rect x="618.0" y="1213" width="3" height="60" fill="#383838"/>
<rect x="606.0" y="1228" width="8" height="38" rx="4" fill="#000"/>
<rect x="626.6" y="1213" width="17" height="60" fill="#0a0a0a"/><rect x="643.6" y="1213" width="3" height="60" fill="#383838"/>
<rect x="631.6" y="1228" width="8" height="38" rx="4" fill="#000"/>
<rect x="652.2" y="1213" width="17" height="60" fill="#0a0a0a"/><rect x="669.2" y="1213" width="3" height="60" fill="#383838"/>
<rect x="657.2" y="1228" width="8" height="38" rx="4" fill="#000"/>
<rect x="677.8" y="1213" width="17" height="60" fill="#0a0a0a"/><rect x="694.8" y="1213" width="3" height="60" fill="#383838"/>
<rect x="682.8" y="1228" width="8" height="38" rx="4" fill="#000"/>
<rect x="703.4" y="1213" width="17" height="60" fill="#0a0a0a"/><rect x="720.4" y="1213" width="3" height="60" fill="#383838"/>
<rect x="708.4" y="1228" width="8" height="38" rx="4" fill="#000"/>
<rect x="729.0" y="1213" width="17" height="60" fill="#0a0a0a"/><rect x="746.0" y="1213" width="3" height="60" fill="#383838"/>
<rect x="734.0" y="1228" width="8" height="38" rx="4" fill="#000"/>
<rect x="754.6" y="1213" width="17" height="60" fill="#0a0a0a"/><rect x="771.6" y="1213" width="3" height="60" fill="#383838"/>
<rect x="759.6" y="1228" width="8" height="38" rx="4" fill="#000"/>
<rect x="597" y="1209" width="176" height="3" fill="#3a3a3a"/>
<rect x="575" y="1281" width="188" height="95" fill="#1a1a1a" stroke="#0d0d0d" stroke-width="2"/>
<text x="672" y="1181" font-family="Liberation Serif" font-size="22" font-weight="bold" fill="#111" textLength="70" lengthAdjust="spacingAndGlyphs" style="font-family:'Liberation Serif',serif">RADIO</text>
<text x="672" y="1348" font-size="20" font-weight="bold" fill="#101010" style="font-family:'Liberation Serif',serif">GPS</text>
<rect x="217" y="1143" width="95" height="52" fill="#050505" stroke="#2a2a2a" stroke-width="1.5"/>
<rect x="222" y="1146" width="18" height="5" fill="#1e1e1e"/><rect x="292" y="1146" width="18" height="5" fill="#1e1e1e"/>
<circle cx="232.0" cy="1165.500" r="2" fill="#f2f2f2"/><circle cx="232.0" cy="1186.500" r="2" fill="#f2f2f2"/>
<circle cx="242.6" cy="1165.500" r="1.4" fill="#f2f2f2"/><circle cx="242.6" cy="1186.500" r="1.4" fill="#f2f2f2"/>
<circle cx="253.2" cy="1165.500" r="1.4" fill="#f2f2f2"/><circle cx="253.2" cy="1186.500" r="1.4" fill="#f2f2f2"/>
<circle cx="263.8" cy="1165.500" r="1.4" fill="#f2f2f2"/><circle cx="263.8" cy="1186.500" r="1.4" fill="#f2f2f2"/>
<circle cx="274.4" cy="1165.500" r="1.4" fill="#f2f2f2"/><circle cx="274.4" cy="1186.500" r="1.4" fill="#f2f2f2"/>
<circle cx="285.0" cy="1165.500" r="1.4" fill="#f2f2f2"/><circle cx="285.0" cy="1186.500" r="1.4" fill="#f2f2f2"/>
<circle cx="295.6" cy="1165.500" r="1.4" fill="#f2f2f2"/><circle cx="295.6" cy="1186.500" r="1.4" fill="#f2f2f2"/>
<circle cx="306.2" cy="1165.500" r="1.4" fill="#f2f2f2"/><circle cx="306.2" cy="1186.500" r="1.4" fill="#f2f2f2"/>
<rect x="240" y="1203" width="52" height="20" fill="#111"/>
<rect x="243" y="1205" width="47" height="13" rx="2" fill="#2d7fb8"/><rect x="252" y="1209" width="28" height="6" fill="#7fd0f5"/><rect x="245" y="1210" width="8" height="3" fill="#e8f6ff"/><rect x="280" y="1210" width="8" height="3" fill="#e8f6ff"/>
<rect x="326" y="1142" width="100" height="43" rx="5" fill="#070707"/>
<rect x="328" y="1148.5" width="96" height="33" rx="1.5" fill="url(#wconn)" stroke="#fff" stroke-width="1.2"/>
<rect x="334" y="1155" width="84" height="21.5" fill="#d6d6d6"/>
<rect x="337.5" y="1146" width="11" height="6" fill="#f6f6f6"/><rect x="341" y="1149" width="4" height="5" fill="#bdbdbd"/>
<rect x="404" y="1146" width="11" height="6" fill="#f6f6f6"/><rect x="407.5" y="1149" width="4" height="5" fill="#bdbdbd"/>
<rect x="432" y="1142" width="157.7" height="43" rx="5" fill="#070707"/>
<rect x="434" y="1148.5" width="153.7" height="33" rx="1.5" fill="url(#wconn)" stroke="#fff" stroke-width="1.2"/>
<rect x="440" y="1155" width="141.7" height="21.5" fill="#d6d6d6"/>
<rect x="441.5" y="1146" width="11" height="6" fill="#f6f6f6"/><rect x="445" y="1149" width="4" height="5" fill="#bdbdbd"/>
<rect x="465.5" y="1146" width="11" height="6" fill="#f6f6f6"/><rect x="469" y="1149" width="4" height="5" fill="#bdbdbd"/>
<rect x="542.5" y="1146" width="11" height="6" fill="#f6f6f6"/><rect x="546" y="1149" width="4" height="5" fill="#bdbdbd"/>
<rect x="569" y="1146" width="11" height="6" fill="#f6f6f6"/><rect x="572.5" y="1149" width="4" height="5" fill="#bdbdbd"/>
<rect x="477.5" y="1149" width="4.5" height="32" fill="#f4f4f4"/><rect x="476.5" y="1155" width="1" height="21" fill="#b0b0b0"/><rect x="482" y="1155" width="1" height="21" fill="#b0b0b0"/>
<rect x="501.5" y="1149" width="4.5" height="32" fill="#f4f4f4"/><rect x="500.5" y="1155" width="1" height="21" fill="#b0b0b0"/><rect x="506" y="1155" width="1" height="21" fill="#b0b0b0"/>
<rect x="535" y="1149" width="4.5" height="32" fill="#f4f4f4"/><rect x="534" y="1155" width="1" height="21" fill="#b0b0b0"/><rect x="539.5" y="1155" width="1" height="21" fill="#b0b0b0"/>
<circle cx="338.0" cy="1162" r="0.8" fill="#efefef"/><circle cx="341.0" cy="1170" r="0.8" fill="#efefef"/>
<circle cx="345.0" cy="1162" r="0.8" fill="#efefef"/><circle cx="348.0" cy="1170" r="0.8" fill="#efefef"/>
<circle cx="352.0" cy="1162" r="0.8" fill="#efefef"/><circle cx="355.0" cy="1170" r="0.8" fill="#efefef"/>
<circle cx="359.0" cy="1162" r="0.8" fill="#efefef"/><circle cx="362.0" cy="1170" r="0.8" fill="#efefef"/>
<circle cx="366.0" cy="1162" r="0.8" fill="#efefef"/><circle cx="369.0" cy="1170" r="0.8" fill="#efefef"/>
<circle cx="373.0" cy="1162" r="0.8" fill="#efefef"/><circle cx="376.0" cy="1170" r="0.8" fill="#efefef"/>
<circle cx="380.0" cy="1162" r="0.8" fill="#efefef"/><circle cx="383.0" cy="1170" r="0.8" fill="#efefef"/>
<circle cx="387.0" cy="1162" r="0.8" fill="#efefef"/><circle cx="390.0" cy="1170" r="0.8" fill="#efefef"/>
<circle cx="394.0" cy="1162" r="0.8" fill="#efefef"/><circle cx="397.0" cy="1170" r="0.8" fill="#efefef"/>
<circle cx="401.0" cy="1162" r="0.8" fill="#efefef"/><circle cx="404.0" cy="1170" r="0.8" fill="#efefef"/>
<circle cx="408.0" cy="1162" r="0.8" fill="#efefef"/><circle cx="411.0" cy="1170" r="0.8" fill="#efefef"/>
<circle cx="415.0" cy="1162" r="0.8" fill="#efefef"/><circle cx="418.0" cy="1170" r="0.8" fill="#efefef"/>
<circle cx="444.0" cy="1162" r="0.8" fill="#efefef"/><circle cx="447.0" cy="1170" r="0.8" fill="#efefef"/>
<circle cx="451.3" cy="1162" r="0.8" fill="#efefef"/><circle cx="454.3" cy="1170" r="0.8" fill="#efefef"/>
<circle cx="458.6" cy="1162" r="0.8" fill="#efefef"/><circle cx="461.6" cy="1170" r="0.8" fill="#efefef"/>
<circle cx="465.9" cy="1162" r="0.8" fill="#efefef"/><circle cx="468.9" cy="1170" r="0.8" fill="#efefef"/>
<circle cx="473.2" cy="1162" r="0.8" fill="#efefef"/><circle cx="476.2" cy="1170" r="0.8" fill="#efefef"/>
<circle cx="480.5" cy="1162" r="0.8" fill="#efefef"/><circle cx="483.5" cy="1170" r="0.8" fill="#efefef"/>
<circle cx="487.8" cy="1162" r="0.8" fill="#efefef"/><circle cx="490.8" cy="1170" r="0.8" fill="#efefef"/>
<circle cx="495.1" cy="1162" r="0.8" fill="#efefef"/><circle cx="498.1" cy="1170" r="0.8" fill="#efefef"/>
<circle cx="502.4" cy="1162" r="0.8" fill="#efefef"/><circle cx="505.4" cy="1170" r="0.8" fill="#efefef"/>
<circle cx="509.7" cy="1162" r="0.8" fill="#efefef"/><circle cx="512.7" cy="1170" r="0.8" fill="#efefef"/>
<circle cx="517.0" cy="1162" r="0.8" fill="#efefef"/><circle cx="520.0" cy="1170" r="0.8" fill="#efefef"/>
<circle cx="524.3" cy="1162" r="0.8" fill="#efefef"/><circle cx="527.3" cy="1170" r="0.8" fill="#efefef"/>
<circle cx="531.6" cy="1162" r="0.8" fill="#efefef"/><circle cx="534.6" cy="1170" r="0.8" fill="#efefef"/>
<circle cx="538.9" cy="1162" r="0.8" fill="#efefef"/><circle cx="541.9" cy="1170" r="0.8" fill="#efefef"/>
<circle cx="546.2" cy="1162" r="0.8" fill="#efefef"/><circle cx="549.2" cy="1170" r="0.8" fill="#efefef"/>
<circle cx="553.5" cy="1162" r="0.8" fill="#efefef"/><circle cx="556.5" cy="1170" r="0.8" fill="#efefef"/>
<circle cx="560.8" cy="1162" r="0.8" fill="#efefef"/><circle cx="563.8" cy="1170" r="0.8" fill="#efefef"/>
<circle cx="568.1" cy="1162" r="0.8" fill="#efefef"/><circle cx="571.1" cy="1170" r="0.8" fill="#efefef"/>
<circle cx="575.4" cy="1162" r="0.8" fill="#efefef"/><circle cx="578.4" cy="1170" r="0.8" fill="#efefef"/>
<circle cx="637.5" cy="1171" r="27" fill="#0a0a0a"/>
<circle cx="636.5" cy="1172" r="20.5" fill="url(#grn)" stroke="#dfe8e3" stroke-width="1.3"/>
<path d="M626,1178 L626,1166 Q636,1158 646,1165 L648,1180 Q637,1186 626,1178 Z" fill="#3aa274" stroke="#1a4d36" stroke-width="1"/>
<circle cx="634" cy="1174" r="5" fill="#0a0a0a"/><circle cx="634" cy="1163" r="1.6" fill="#0a0a0a"/><circle cx="650" cy="1175" r="2.5" fill="#0a0a0a"/>
<circle cx="641" cy="1338" r="27" fill="#0c0c0c"/>
<circle cx="641.5" cy="1338.5" r="14.5" fill="url(#gps)" stroke="#999" stroke-width="1"/><circle cx="641.5" cy="1338.5" r="6.5" fill="#f8f8f8" stroke="#c8c8c8" stroke-width="1"/><circle cx="641.5" cy="1338.5" r="1.3" fill="#888"/>
<g fill="none" stroke="#1a6cf0" stroke-width="3.4"><rect x="207.5" y="1128.500" width="113" height="71"/><path d="M245,1029 V1128"/><path d="M386,950 V1166"/><path d="M489.2,1050 V1165"/><path d="M520.5,1016 V1165"/><path d="M558.2,982.5 V1166"/><path d="M637.5,1051.5 V1144"/><path d="M697.3,1053 V1338 H670"/><circle cx="637.5" cy="1171" r="28.5"/><circle cx="641.2" cy="1338" r="29"/></g>
<g fill="#1a6cf0"><circle cx="386" cy="1166.500" r="5.6"/><circle cx="489.2" cy="1165.500" r="5.6"/><circle cx="520.5" cy="1165.500" r="5.6"/><circle cx="558.2" cy="1166" r="5.6"/></g>
<text x="262.5" y="934" font-size="22.6" fill="#1a6cf0" stroke="#1a6cf0" stroke-width="0.55" textLength="223.5" lengthAdjust="spacingAndGlyphs">RCA Cable Socket</text>
<text x="454" y="968.5" font-size="22.6" fill="#1a6cf0" stroke="#1a6cf0" stroke-width="0.55" textLength="229.5" lengthAdjust="spacingAndGlyphs">Rear Camera Input</text>
<text x="167.5" y="1016.5" font-size="22.6" fill="#1a6cf0" stroke="#1a6cf0" stroke-width="0.55" textLength="151.5" lengthAdjust="spacingAndGlyphs">Power cable</text>
<text x="482.5" y="1004" font-size="17.4" fill="#1a6cf0" stroke="#1a6cf0" stroke-width="0.55" textLength="53.5" lengthAdjust="spacingAndGlyphs">USB2</text>
<text x="443.5" y="1042.5" font-size="17.4" fill="#1a6cf0" stroke="#1a6cf0" stroke-width="0.55" textLength="52.5" lengthAdjust="spacingAndGlyphs">USB1</text>
<text x="568.5" y="1021.5" font-size="22.6" fill="#1a6cf0" stroke="#1a6cf0" stroke-width="0.55" textLength="70" lengthAdjust="spacingAndGlyphs">Radio</text>
<text x="568.5" y="1043.5" font-size="22.6" fill="#1a6cf0" stroke="#1a6cf0" stroke-width="0.55" textLength="100.5" lengthAdjust="spacingAndGlyphs">antenna</text>
<text x="682.5" y="1020" font-size="22.6" fill="#1a6cf0" stroke="#1a6cf0" stroke-width="0.55" textLength="51" lengthAdjust="spacingAndGlyphs">GPS</text>
<text x="682.5" y="1042.5" font-size="22.6" fill="#1a6cf0" stroke="#1a6cf0" stroke-width="0.55" textLength="101" lengthAdjust="spacingAndGlyphs">antenna</text>

<!-- p_cable -->
<defs>
<linearGradient id="pgf2b90c" x1="0" y1="0" x2="0" y2="1"><stop offset="0" stop-color="#f2b90c"/><stop offset="0.3" stop-color="#ffd23a"/><stop offset="0.7" stop-color="#f2b90c"/><stop offset="1" stop-color="#b98500"/></linearGradient>
<linearGradient id="pg262626" x1="0" y1="0" x2="0" y2="1"><stop offset="0" stop-color="#262626"/><stop offset="0.3" stop-color="#444444"/><stop offset="0.7" stop-color="#262626"/><stop offset="1" stop-color="#0c0c0c"/></linearGradient>
<linearGradient id="pg0b7a62" x1="0" y1="0" x2="0" y2="1"><stop offset="0" stop-color="#0b7a62"/><stop offset="0.3" stop-color="#19a081"/><stop offset="0.7" stop-color="#0b7a62"/><stop offset="1" stop-color="#064a3b"/></linearGradient>
<linearGradient id="pge9e7e4" x1="0" y1="0" x2="0" y2="1"><stop offset="0" stop-color="#e9e7e4"/><stop offset="0.3" stop-color="#ffffff"/><stop offset="0.7" stop-color="#e9e7e4"/><stop offset="1" stop-color="#b9b6b2"/></linearGradient>
<linearGradient id="pgf01414" x1="0" y1="0" x2="0" y2="1"><stop offset="0" stop-color="#f01414"/><stop offset="0.3" stop-color="#ff4a40"/><stop offset="0.7" stop-color="#f01414"/><stop offset="1" stop-color="#a80808"/></linearGradient>
<linearGradient id="metal2" x1="0" y1="0" x2="0" y2="1"><stop offset="0" stop-color="#8c8c8c"/><stop offset="0.3" stop-color="#f4f4f4"/><stop offset="0.6" stop-color="#a8a8a8"/><stop offset="1" stop-color="#5c5c5c"/></linearGradient>
<clipPath id="lblclip"><rect x="1380" y="940" width="170" height="520"/></clipPath>
</defs>
<g fill="none" stroke-linecap="round"><path d="M866,1234 C900,1236 940,1226 968,1222 C1000,1218 1030,1226 1064,1237 C1110,1252 1160,1266 1204,1279 C1240,1289 1270,1293 1294,1297 L1330,1303" stroke="#f58a9a" stroke-width="2.6"/><path d="M1326,1302.500 L1344,1306.300" stroke="#e8323c" stroke-width="1.6"/><path d="M866,1194 C900,1194 930,1207 968,1207" stroke="#141414" stroke-width="4"/><path d="M866,1200 C900,1200 930,1209 968,1209" stroke="#141414" stroke-width="4"/><path d="M866,1206 C900,1206 930,1212 968,1212" stroke="#141414" stroke-width="4.5"/><path d="M866,1214 C900,1214 930,1214 968,1214" stroke="#141414" stroke-width="4.5"/><path d="M866,1222 C900,1222 930,1217 968,1217" stroke="#141414" stroke-width="4"/><path d="M866,1229 C900,1229 930,1219 968,1219" stroke="#141414" stroke-width="4"/><path d="M866,1236 C900,1236 930,1221 968,1221" stroke="#222" stroke-width="3.5"/><path d="M866,1203 C885,1202 900,1200 915,1203" stroke="#f2c10c" stroke-width="3.4"/><path d="M866,1197 C880,1197 890,1199 900,1200" stroke="#e02020" stroke-width="2.6"/><path d="M866,1226 C880,1226 890,1222 905,1216" stroke="#e02020" stroke-width="2.8"/><path d="M866,1230 C890,1231 910,1226 935,1222" stroke="#e85a6a" stroke-width="2.4"/><path d="M866,1216 C880,1216 890,1214 900,1212" stroke="#ddd" stroke-width="2"/><path d="M900,1200 L948,1206" stroke="#0c0c0c" stroke-width="6.5"/><path d="M905,1214 L950,1216" stroke="#0c0c0c" stroke-width="7"/></g>
<g fill="none" stroke="#121212" stroke-width="5.4" stroke-linecap="round"><path d="M966,1209 C1005,1203 1040,1182 1065,1155 C1085,1133 1110,1100 1152,1054"/><path d="M966,1210 C1005,1206 1050,1180 1101,1149 C1130,1131 1170,1113 1208,1095"/><path d="M966,1211 C1005,1208 1050,1193 1101,1177.500 C1130,1168 1170,1158 1212,1142"/><path d="M966,1212 C1005,1211 1050,1202 1101,1187 C1130,1178 1160,1166 1218,1163.400"/><path d="M966,1214 C1005,1215 1100,1215 1179,1214 L1224,1210"/><path d="M966,1215.500 C1005,1218 1060,1219 1101,1221 C1130,1224 1160,1232 1227,1248"/><path d="M966,1217 C1000,1219 1040,1226 1070,1240 C1100,1256 1130,1276 1163,1296 L1201,1322.500"/><path d="M966,1218 C1000,1221 1030,1226 1054,1240 C1075,1254 1100,1280 1132,1312 L1168,1362"/></g>
<g fill="none" stroke="#3a3a3a" stroke-width="1" stroke-linecap="round" opacity="0.8"><path d="M966,1209 C1005,1203 1040,1182 1065,1155 C1085,1133 1110,1100 1152,1054" transform="translate(0,-1.2)"/><path d="M966,1210 C1005,1206 1050,1180 1101,1149 C1130,1131 1170,1113 1208,1095" transform="translate(0,-1.2)"/><path d="M966,1211 C1005,1208 1050,1193 1101,1177.500 C1130,1168 1170,1158 1212,1142" transform="translate(0,-1.2)"/><path d="M966,1212 C1005,1211 1050,1202 1101,1187 C1130,1178 1160,1166 1218,1163.400" transform="translate(0,-1.2)"/><path d="M966,1214 C1005,1215 1100,1215 1179,1214 L1224,1210" transform="translate(0,-1.2)"/><path d="M966,1215.500 C1005,1218 1060,1219 1101,1221 C1130,1224 1160,1232 1227,1248" transform="translate(0,-1.2)"/><path d="M966,1217 C1000,1219 1040,1226 1070,1240 C1100,1256 1130,1276 1163,1296 L1201,1322.500" transform="translate(0,-1.2)"/><path d="M966,1218 C1000,1221 1030,1226 1054,1240 C1075,1254 1100,1280 1132,1312 L1168,1362" transform="translate(0,-1.2)"/></g>
<rect x="961.5" y="1203" width="10" height="22" rx="2" fill="#ececec" stroke="#bbb" stroke-width="0.8"/><rect x="960" y="1203" width="13" height="7" rx="1.5" fill="#dcdcdc"/>
<rect x="840" y="1189" width="26" height="53" rx="2" fill="#f0f0f0" stroke="#cfcfcf" stroke-width="1"/><rect x="860" y="1186" width="6" height="10" fill="#e8e8e8"/><rect x="860" y="1236" width="6" height="8" fill="#e4e4e4"/><rect x="843" y="1194.0" width="8" height="3" fill="#cfcfcf"/><rect x="843" y="1199.9" width="8" height="3" fill="#cfcfcf"/><rect x="843" y="1205.8" width="8" height="3" fill="#cfcfcf"/><rect x="843" y="1211.7" width="8" height="3" fill="#cfcfcf"/><rect x="843" y="1217.6" width="8" height="3" fill="#cfcfcf"/><rect x="843" y="1223.5" width="8" height="3" fill="#cfcfcf"/><rect x="843" y="1229.4" width="8" height="3" fill="#cfcfcf"/><rect x="843" y="1235.3" width="8" height="3" fill="#cfcfcf"/><rect x="852" y="1192" width="2" height="47" fill="#d5d5d5"/>
<g transform="translate(1139.0,1085.0) rotate(-48)"><rect x="-19" y="-10.5" width="38" height="21" rx="2" fill="#f3f3f3" stroke="#d6d6d6" stroke-width="0.8"/><text x="0" y="1.656" font-size="4.6" font-weight="bold" fill="#222" text-anchor="middle">VIDEO OUT</text></g>
<g transform="translate(1179.5,1104.0) rotate(-25)"><rect x="-20" y="-11.5" width="40" height="23" rx="2" fill="#f3f3f3" stroke="#d6d6d6" stroke-width="0.8"/><text x="0" y="1.98" font-size="5.5" font-weight="bold" fill="#222" text-anchor="middle">MIC</text></g>
<g transform="translate(1188.5,1141.5) rotate(-25)"><rect x="-20" y="-12.5" width="40" height="25" rx="2" fill="#f3f3f3" stroke="#d6d6d6" stroke-width="0.8"/><text x="0" y="1.98" font-size="5.5" font-weight="bold" fill="#222" text-anchor="middle">VIDEO IN</text></g>
<g transform="translate(1184.0,1172.5) rotate(-3)"><rect x="-20" y="-11" width="40" height="22" rx="2" fill="#f3f3f3" stroke="#d6d6d6" stroke-width="0.8"/><text x="0" y="1.656" font-size="4.6" font-weight="bold" fill="#222" text-anchor="middle">SUB WOOF</text></g>
<g transform="translate(1198.0,1216.0) rotate(-6)"><rect x="-19" y="-7" width="38" height="14" rx="2" fill="#f3f3f3" stroke="#d6d6d6" stroke-width="0.8"/><text x="0" y="1.44" font-size="4" font-weight="bold" fill="#222" text-anchor="middle"></text></g>
<g transform="translate(1203.0,1231.0) rotate(6)"><rect x="-22" y="-11.5" width="44" height="23" rx="2" fill="#f3f3f3" stroke="#d6d6d6" stroke-width="0.8"/><text x="0" y="1.656" font-size="4.6" font-weight="bold" fill="#222" text-anchor="middle">AUDIO OUT R</text></g>
<g transform="translate(1220.5,1293.5) rotate(14)"><rect x="-20" y="-13.5" width="40" height="27" rx="2" fill="#f3f3f3" stroke="#d6d6d6" stroke-width="0.8"/><text x="0" y="1.98" font-size="5.5" font-weight="bold" fill="#222" text-anchor="middle">AMP-C</text></g>
<g transform="translate(1186.0,1303.0) rotate(40)"><rect x="-22" y="-9.5" width="44" height="19" rx="2" fill="#f3f3f3" stroke="#d6d6d6" stroke-width="0.8"/><text x="0" y="1.98" font-size="5.5" font-weight="bold" fill="#222" text-anchor="middle">AUX-L IN</text></g>
<g transform="translate(1153.0,1328.0) rotate(52)"><rect x="-22" y="-9.5" width="44" height="19" rx="2" fill="#f3f3f3" stroke="#d6d6d6" stroke-width="0.8"/><text x="0" y="1.98" font-size="5.5" font-weight="bold" fill="#222" text-anchor="middle">AUX-R IN</text></g>
<g transform="translate(1152.0,1054.0) rotate(-39.4) scale(0.984,1)"><rect x="78" y="-10" width="20" height="20" fill="url(#metal2)"/><ellipse cx="98" cy="0" rx="3.8" ry="10" fill="#8a8a8a" stroke="#d8d8d8" stroke-width="1"/><path d="M0,-7.2 L31,-7.2 L44,-14.5 L79,-14.5 Q83,-14.5 83,-10.5 L83,10.5 Q83,14.5 79,14.5 L44,14.5 L31,7.2 L0,7.2 Z" fill="url(#pgf2b90c)"/><path d="M51,-14.5 V14.5 M55,-14.5 V14.5" stroke="#b98500" stroke-width="1" opacity="0.7"/><rect x="4.5" y="-5.8" width="2" height="4.2" rx="0.8" fill="#151515"/><rect x="4.5" y="1.4" width="2" height="3.6" rx="0.8" fill="#151515"/><rect x="9.9" y="-5.8" width="2" height="4.2" rx="0.8" fill="#151515"/><rect x="9.9" y="1.4" width="2" height="3.6" rx="0.8" fill="#151515"/><rect x="15.3" y="-5.8" width="2" height="4.2" rx="0.8" fill="#151515"/><rect x="15.3" y="1.4" width="2" height="3.6" rx="0.8" fill="#151515"/><rect x="20.7" y="-5.8" width="2" height="4.2" rx="0.8" fill="#151515"/><rect x="20.7" y="1.4" width="2" height="3.6" rx="0.8" fill="#151515"/><rect x="26.1" y="-5.8" width="2" height="4.2" rx="0.8" fill="#151515"/><rect x="26.1" y="1.4" width="2" height="3.6" rx="0.8" fill="#151515"/></g>
<g transform="translate(1206.0,1096.0) rotate(-23.1) scale(1.022,1)"><rect x="78" y="-14.5" width="19" height="29" fill="url(#pg262626)"/><ellipse cx="97" cy="0" rx="3.6" ry="14.5" fill="#9a9a9a" stroke="#dcdcdc" stroke-width="1.2"/><ellipse cx="97.5" cy="0" rx="1.8" ry="7" fill="#555"/><path d="M0,-7.2 L31,-7.2 L44,-14.5 L79,-14.5 Q83,-14.5 83,-10.5 L83,10.5 Q83,14.5 79,14.5 L44,14.5 L31,7.2 L0,7.2 Z" fill="url(#pg262626)"/><path d="M51,-14.5 V14.5 M55,-14.5 V14.5" stroke="#0c0c0c" stroke-width="1" opacity="0.7"/><rect x="4.5" y="-5.8" width="2" height="4.2" rx="0.8" fill="#151515"/><rect x="4.5" y="1.4" width="2" height="3.6" rx="0.8" fill="#151515"/><rect x="9.9" y="-5.8" width="2" height="4.2" rx="0.8" fill="#151515"/><rect x="9.9" y="1.4" width="2" height="3.6" rx="0.8" fill="#151515"/><rect x="15.3" y="-5.8" width="2" height="4.2" rx="0.8" fill="#151515"/><rect x="15.3" y="1.4" width="2" height="3.6" rx="0.8" fill="#151515"/><rect x="20.7" y="-5.8" width="2" height="4.2" rx="0.8" fill="#151515"/><rect x="20.7" y="1.4" width="2" height="3.6" rx="0.8" fill="#151515"/><rect x="26.1" y="-5.8" width="2" height="4.2" rx="0.8" fill="#151515"/><rect x="26.1" y="1.4" width="2" height="3.6" rx="0.8" fill="#151515"/></g>
<g transform="translate(1210.5,1143.0) rotate(-25.2) scale(1.022,1)"><rect x="78" y="-10" width="20" height="20" fill="url(#metal2)"/><ellipse cx="98" cy="0" rx="3.8" ry="10" fill="#8a8a8a" stroke="#d8d8d8" stroke-width="1"/><path d="M0,-7.2 L31,-7.2 L44,-14.5 L79,-14.5 Q83,-14.5 83,-10.5 L83,10.5 Q83,14.5 79,14.5 L44,14.5 L31,7.2 L0,7.2 Z" fill="url(#pgf2b90c)"/><path d="M51,-14.5 V14.5 M55,-14.5 V14.5" stroke="#b98500" stroke-width="1" opacity="0.7"/><rect x="4.5" y="-5.8" width="2" height="4.2" rx="0.8" fill="#151515"/><rect x="4.5" y="1.4" width="2" height="3.6" rx="0.8" fill="#151515"/><rect x="9.9" y="-5.8" width="2" height="4.2" rx="0.8" fill="#151515"/><rect x="9.9" y="1.4" width="2" height="3.6" rx="0.8" fill="#151515"/><rect x="15.3" y="-5.8" width="2" height="4.2" rx="0.8" fill="#151515"/><rect x="15.3" y="1.4" width="2" height="3.6" rx="0.8" fill="#151515"/><rect x="20.7" y="-5.8" width="2" height="4.2" rx="0.8" fill="#151515"/><rect x="20.7" y="1.4" width="2" height="3.6" rx="0.8" fill="#151515"/><rect x="26.1" y="-5.8" width="2" height="4.2" rx="0.8" fill="#151515"/><rect x="26.1" y="1.4" width="2" height="3.6" rx="0.8" fill="#151515"/></g>
<g transform="translate(1217.0,1163.5) rotate(-3.8) scale(0.972,1)"><rect x="78" y="-10" width="20" height="20" fill="url(#metal2)"/><ellipse cx="98" cy="0" rx="3.8" ry="10" fill="#8a8a8a" stroke="#d8d8d8" stroke-width="1"/><path d="M0,-7.2 L31,-7.2 L44,-14.5 L79,-14.5 Q83,-14.5 83,-10.5 L83,10.5 Q83,14.5 79,14.5 L44,14.5 L31,7.2 L0,7.2 Z" fill="url(#pg0b7a62)"/><path d="M51,-14.5 V14.5 M55,-14.5 V14.5" stroke="#064a3b" stroke-width="1" opacity="0.7"/><rect x="4.5" y="-5.8" width="2" height="4.2" rx="0.8" fill="#151515"/><rect x="4.5" y="1.4" width="2" height="3.6" rx="0.8" fill="#151515"/><rect x="9.9" y="-5.8" width="2" height="4.2" rx="0.8" fill="#151515"/><rect x="9.9" y="1.4" width="2" height="3.6" rx="0.8" fill="#151515"/><rect x="15.3" y="-5.8" width="2" height="4.2" rx="0.8" fill="#151515"/><rect x="15.3" y="1.4" width="2" height="3.6" rx="0.8" fill="#151515"/><rect x="20.7" y="-5.8" width="2" height="4.2" rx="0.8" fill="#151515"/><rect x="20.7" y="1.4" width="2" height="3.6" rx="0.8" fill="#151515"/><rect x="26.1" y="-5.8" width="2" height="4.2" rx="0.8" fill="#151515"/><rect x="26.1" y="1.4" width="2" height="3.6" rx="0.8" fill="#151515"/></g>
<g transform="translate(1223.0,1210.0) rotate(-10.9) scale(1.008,1)"><rect x="78" y="-10" width="20" height="20" fill="url(#metal2)"/><ellipse cx="98" cy="0" rx="3.8" ry="10" fill="#8a8a8a" stroke="#d8d8d8" stroke-width="1"/><path d="M0,-7.2 L31,-7.2 L44,-14.5 L79,-14.5 Q83,-14.5 83,-10.5 L83,10.5 Q83,14.5 79,14.5 L44,14.5 L31,7.2 L0,7.2 Z" fill="url(#pge9e7e4)"/><path d="M51,-14.5 V14.5 M55,-14.5 V14.5" stroke="#b9b6b2" stroke-width="1" opacity="0.7"/><rect x="4.5" y="-5.8" width="2" height="4.2" rx="0.8" fill="#151515"/><rect x="4.5" y="1.4" width="2" height="3.6" rx="0.8" fill="#151515"/><rect x="9.9" y="-5.8" width="2" height="4.2" rx="0.8" fill="#151515"/><rect x="9.9" y="1.4" width="2" height="3.6" rx="0.8" fill="#151515"/><rect x="15.3" y="-5.8" width="2" height="4.2" rx="0.8" fill="#151515"/><rect x="15.3" y="1.4" width="2" height="3.6" rx="0.8" fill="#151515"/><rect x="20.7" y="-5.8" width="2" height="4.2" rx="0.8" fill="#151515"/><rect x="20.7" y="1.4" width="2" height="3.6" rx="0.8" fill="#151515"/><rect x="26.1" y="-5.8" width="2" height="4.2" rx="0.8" fill="#151515"/><rect x="26.1" y="1.4" width="2" height="3.6" rx="0.8" fill="#151515"/></g>
<g transform="translate(1226.0,1247.5) rotate(8.4) scale(0.991,1)"><rect x="78" y="-10" width="20" height="20" fill="url(#metal2)"/><ellipse cx="98" cy="0" rx="3.8" ry="10" fill="#8a8a8a" stroke="#d8d8d8" stroke-width="1"/><path d="M0,-7.2 L31,-7.2 L44,-14.5 L79,-14.5 Q83,-14.5 83,-10.5 L83,10.5 Q83,14.5 79,14.5 L44,14.5 L31,7.2 L0,7.2 Z" fill="url(#pgf01414)"/><path d="M51,-14.5 V14.5 M55,-14.5 V14.5" stroke="#a80808" stroke-width="1" opacity="0.7"/><rect x="4.5" y="-5.8" width="2" height="4.2" rx="0.8" fill="#151515"/><rect x="4.5" y="1.4" width="2" height="3.6" rx="0.8" fill="#151515"/><rect x="9.9" y="-5.8" width="2" height="4.2" rx="0.8" fill="#151515"/><rect x="9.9" y="1.4" width="2" height="3.6" rx="0.8" fill="#151515"/><rect x="15.3" y="-5.8" width="2" height="4.2" rx="0.8" fill="#151515"/><rect x="15.3" y="1.4" width="2" height="3.6" rx="0.8" fill="#151515"/><rect x="20.7" y="-5.8" width="2" height="4.2" rx="0.8" fill="#151515"/><rect x="20.7" y="1.4" width="2" height="3.6" rx="0.8" fill="#151515"/><rect x="26.1" y="-5.8" width="2" height="4.2" rx="0.8" fill="#151515"/><rect x="26.1" y="1.4" width="2" height="3.6" rx="0.8" fill="#151515"/></g>
<g transform="translate(1200.0,1322.0) rotate(26.9) scale(1.071,1)"><rect x="78" y="-10" width="20" height="20" fill="url(#metal2)"/><ellipse cx="98" cy="0" rx="3.8" ry="10" fill="#8a8a8a" stroke="#d8d8d8" stroke-width="1"/><path d="M0,-7.2 L31,-7.2 L44,-14.5 L79,-14.5 Q83,-14.5 83,-10.5 L83,10.5 Q83,14.5 79,14.5 L44,14.5 L31,7.2 L0,7.2 Z" fill="url(#pge9e7e4)"/><path d="M51,-14.5 V14.5 M55,-14.5 V14.5" stroke="#b9b6b2" stroke-width="1" opacity="0.7"/><rect x="4.5" y="-5.8" width="2" height="4.2" rx="0.8" fill="#151515"/><rect x="4.5" y="1.4" width="2" height="3.6" rx="0.8" fill="#151515"/><rect x="9.9" y="-5.8" width="2" height="4.2" rx="0.8" fill="#151515"/><rect x="9.9" y="1.4" width="2" height="3.6" rx="0.8" fill="#151515"/><rect x="15.3" y="-5.8" width="2" height="4.2" rx="0.8" fill="#151515"/><rect x="15.3" y="1.4" width="2" height="3.6" rx="0.8" fill="#151515"/><rect x="20.7" y="-5.8" width="2" height="4.2" rx="0.8" fill="#151515"/><rect x="20.7" y="1.4" width="2" height="3.6" rx="0.8" fill="#151515"/><rect x="26.1" y="-5.8" width="2" height="4.2" rx="0.8" fill="#151515"/><rect x="26.1" y="1.4" width="2" height="3.6" rx="0.8" fill="#151515"/></g>
<g transform="translate(1167.2,1361.0) rotate(52.2) scale(1.050,1)"><rect x="78" y="-10" width="20" height="20" fill="url(#metal2)"/><ellipse cx="98" cy="0" rx="3.8" ry="10" fill="#8a8a8a" stroke="#d8d8d8" stroke-width="1"/><path d="M0,-7.2 L31,-7.2 L44,-14.5 L79,-14.5 Q83,-14.5 83,-10.5 L83,10.5 Q83,14.5 79,14.5 L44,14.5 L31,7.2 L0,7.2 Z" fill="url(#pgf01414)"/><path d="M51,-14.5 V14.5 M55,-14.5 V14.5" stroke="#a80808" stroke-width="1" opacity="0.7"/><rect x="4.5" y="-5.8" width="2" height="4.2" rx="0.8" fill="#151515"/><rect x="4.5" y="1.4" width="2" height="3.6" rx="0.8" fill="#151515"/><rect x="9.9" y="-5.8" width="2" height="4.2" rx="0.8" fill="#151515"/><rect x="9.9" y="1.4" width="2" height="3.6" rx="0.8" fill="#151515"/><rect x="15.3" y="-5.8" width="2" height="4.2" rx="0.8" fill="#151515"/><rect x="15.3" y="1.4" width="2" height="3.6" rx="0.8" fill="#151515"/><rect x="20.7" y="-5.8" width="2" height="4.2" rx="0.8" fill="#151515"/><rect x="20.7" y="1.4" width="2" height="3.6" rx="0.8" fill="#151515"/><rect x="26.1" y="-5.8" width="2" height="4.2" rx="0.8" fill="#151515"/><rect x="26.1" y="1.4" width="2" height="3.6" rx="0.8" fill="#151515"/></g>
<g stroke="#1257c8" stroke-width="1.3" fill="#1257c8"><path d="M1405,977.5 L1251,977.5" fill="none"/><path d="M1243,977.5 l12.500,-4 v8 Z" stroke="none"/><path d="M1405,1051.5 L1325,1051.5" fill="none"/><path d="M1317,1051.5 l12.500,-4 v8 Z" stroke="none"/><path d="M1405,1095.5 L1313,1095.5" fill="none"/><path d="M1305,1095.5 l12.500,-4 v8 Z" stroke="none"/><path d="M1405,1150.5 L1325,1150.5" fill="none"/><path d="M1317,1150.5 l12.500,-4 v8 Z" stroke="none"/><path d="M1410,1197 L1328,1197" fill="none"/><path d="M1320,1197 l12.500,-4 v8 Z" stroke="none"/><path d="M1401.5,1256 L1320.5,1256" fill="none"/><path d="M1312.5,1256 l12.500,-4 v8 Z" stroke="none"/><path d="M1398,1297.8 L1303,1297.8" fill="none"/><path d="M1295,1297.8 l12.500,-4 v8 Z" stroke="none"/><path d="M1397,1368 L1305,1368" fill="none"/><path d="M1297,1368 l12.500,-4 v8 Z" stroke="none"/><path d="M1384,1427 L1237.5,1427" fill="none"/><path d="M1229.5,1427 l12.500,-4 v8 Z" stroke="none"/></g>
<g clip-path="url(#lblclip)" fill="#1c1c1c" font-size="21.8"><text x="1411.5" y="983.4" textLength="119" lengthAdjust="spacingAndGlyphs">VIDEO OUT</text><text x="1411.5" y="1059" textLength="66.5" lengthAdjust="spacingAndGlyphs">MIC IN</text><text x="1411.5" y="1103.3" textLength="95" lengthAdjust="spacingAndGlyphs">VIDEO IN</text><text x="1411.5" y="1160" textLength="138.5" lengthAdjust="spacingAndGlyphs">SUBWOOFER</text><text x="1416" y="1204" textLength="142" lengthAdjust="spacingAndGlyphs">AUDIO OUT L</text><text x="1408.8" y="1259.4" textLength="141.5" lengthAdjust="spacingAndGlyphs">AUDIO OUT R</text><text x="1407" y="1301.5" textLength="69" lengthAdjust="spacingAndGlyphs">AMP-C</text><text x="1403.8" y="1373.4" textLength="90.6" lengthAdjust="spacingAndGlyphs">AUX-L IN</text><text x="1391.3" y="1430.6" textLength="92.5" lengthAdjust="spacingAndGlyphs">AUX-R IN</text></g>

</svg>
</body></html>
